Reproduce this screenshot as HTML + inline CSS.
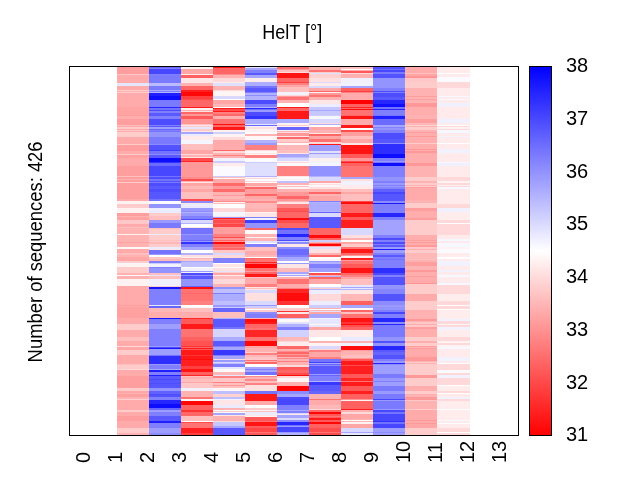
<!DOCTYPE html>
<html><head><meta charset="utf-8"><title>HelT</title>
<style>
html,body{margin:0;padding:0;background:#fff;}
body{width:640px;height:480px;overflow:hidden;position:relative;font-family:"Liberation Sans",sans-serif;color:#000;}
svg{position:absolute;left:0;top:0;}
text{font-family:"Liberation Sans",sans-serif;fill:#000;}
</style></head><body>
<svg width="640" height="480" viewBox="0 0 640 480">
<defs><linearGradient id="cb" x1="0" y1="0" x2="0" y2="1">
<stop offset="0" stop-color="#0000ff"/><stop offset="0.5" stop-color="#ffffff"/><stop offset="1" stop-color="#ff0000"/>
</linearGradient></defs>
<g shape-rendering="crispEdges">
<rect x="117" y="67" width="32" height="7" fill="#ff9e9e"/>
<rect x="117" y="74" width="32" height="1" fill="#ffc7c7"/>
<rect x="117" y="75" width="32" height="8" fill="#ffabab"/>
<rect x="117" y="83" width="32" height="3" fill="#e6e6ff"/>
<rect x="117" y="86" width="32" height="4" fill="#ffabab"/>
<rect x="117" y="90" width="32" height="1" fill="#ffcccc"/>
<rect x="117" y="91" width="32" height="1" fill="#ffb2b2"/>
<rect x="117" y="92" width="32" height="1" fill="#ffcccc"/>
<rect x="117" y="93" width="32" height="14" fill="#ffabab"/>
<rect x="117" y="107" width="32" height="8" fill="#ffa3a3"/>
<rect x="117" y="115" width="32" height="1" fill="#ff9e9e"/>
<rect x="117" y="116" width="32" height="3" fill="#ffadad"/>
<rect x="117" y="119" width="32" height="6" fill="#ff9e9e"/>
<rect x="117" y="125" width="32" height="1" fill="#ffbfbf"/>
<rect x="117" y="126" width="32" height="1" fill="#ffa6a6"/>
<rect x="117" y="127" width="32" height="2" fill="#ffcccc"/>
<rect x="117" y="129" width="32" height="1" fill="#ffa6a6"/>
<rect x="117" y="130" width="32" height="1" fill="#ffc7c7"/>
<rect x="117" y="131" width="32" height="1" fill="#ffadad"/>
<rect x="117" y="132" width="32" height="5" fill="#ffcccc"/>
<rect x="117" y="137" width="32" height="7" fill="#ffabab"/>
<rect x="117" y="144" width="32" height="1" fill="#ffcccc"/>
<rect x="117" y="145" width="32" height="6" fill="#ff9e9e"/>
<rect x="117" y="151" width="32" height="3" fill="#ffabab"/>
<rect x="117" y="154" width="32" height="1" fill="#ffcccc"/>
<rect x="117" y="155" width="32" height="3" fill="#ffa1a1"/>
<rect x="117" y="158" width="32" height="8" fill="#ffabab"/>
<rect x="117" y="166" width="32" height="10" fill="#ff9e9e"/>
<rect x="117" y="176" width="32" height="1" fill="#ffbfbf"/>
<rect x="117" y="177" width="32" height="2" fill="#ff9e9e"/>
<rect x="117" y="179" width="32" height="1" fill="#ffb2b2"/>
<rect x="117" y="180" width="32" height="2" fill="#ff9e9e"/>
<rect x="117" y="182" width="32" height="1" fill="#ffcccc"/>
<rect x="117" y="183" width="32" height="16" fill="#ff9e9e"/>
<rect x="117" y="199" width="32" height="2" fill="#ffabab"/>
<rect x="117" y="201" width="32" height="3" fill="#fff2f2"/>
<rect x="117" y="204" width="32" height="4" fill="#ffcccc"/>
<rect x="117" y="208" width="32" height="5" fill="#fff2f2"/>
<rect x="117" y="213" width="32" height="3" fill="#ff9e9e"/>
<rect x="117" y="216" width="32" height="1" fill="#ffb2b2"/>
<rect x="117" y="217" width="32" height="3" fill="#ffa3a3"/>
<rect x="117" y="220" width="32" height="4" fill="#ffc7c7"/>
<rect x="117" y="224" width="32" height="3" fill="#ffabab"/>
<rect x="117" y="227" width="32" height="1" fill="#ffbfbf"/>
<rect x="117" y="228" width="32" height="6" fill="#ffb2b2"/>
<rect x="117" y="234" width="32" height="1" fill="#fff2f2"/>
<rect x="117" y="235" width="32" height="7" fill="#ffb2b2"/>
<rect x="117" y="242" width="32" height="1" fill="#ffa3a3"/>
<rect x="117" y="243" width="32" height="4" fill="#ffb2b2"/>
<rect x="117" y="247" width="32" height="2" fill="#fff7f7"/>
<rect x="117" y="249" width="32" height="4" fill="#ffabab"/>
<rect x="117" y="253" width="32" height="2" fill="#ffbfbf"/>
<rect x="117" y="255" width="32" height="2" fill="#ffb2b2"/>
<rect x="117" y="257" width="32" height="4" fill="#ffa6a6"/>
<rect x="117" y="261" width="32" height="2" fill="#ffcccc"/>
<rect x="117" y="263" width="32" height="1" fill="#f7f7ff"/>
<rect x="117" y="264" width="32" height="3" fill="#fff2f2"/>
<rect x="117" y="267" width="32" height="6" fill="#ffcccc"/>
<rect x="117" y="273" width="32" height="2" fill="#ffb2b2"/>
<rect x="117" y="275" width="32" height="1" fill="#fff7f7"/>
<rect x="117" y="276" width="32" height="3" fill="#ffb2b2"/>
<rect x="117" y="279" width="32" height="7" fill="#fff2f2"/>
<rect x="117" y="286" width="32" height="19" fill="#ffabab"/>
<rect x="117" y="305" width="32" height="1" fill="#ff9e9e"/>
<rect x="117" y="306" width="32" height="1" fill="#ffabab"/>
<rect x="117" y="307" width="32" height="11" fill="#ffa1a1"/>
<rect x="117" y="318" width="32" height="6" fill="#ffabab"/>
<rect x="117" y="324" width="32" height="6" fill="#ffcccc"/>
<rect x="117" y="330" width="32" height="7" fill="#ffabab"/>
<rect x="117" y="337" width="32" height="4" fill="#ffbfbf"/>
<rect x="117" y="341" width="32" height="5" fill="#ffabab"/>
<rect x="117" y="346" width="32" height="1" fill="#ffd9d9"/>
<rect x="117" y="347" width="32" height="3" fill="#ffa6a6"/>
<rect x="117" y="350" width="32" height="5" fill="#ffcccc"/>
<rect x="117" y="355" width="32" height="9" fill="#ffabab"/>
<rect x="117" y="364" width="32" height="1" fill="#ffbfbf"/>
<rect x="117" y="365" width="32" height="4" fill="#ffcccc"/>
<rect x="117" y="369" width="32" height="1" fill="#ffd9d9"/>
<rect x="117" y="370" width="32" height="6" fill="#ffabab"/>
<rect x="117" y="376" width="32" height="12" fill="#ff9e9e"/>
<rect x="117" y="388" width="32" height="3" fill="#ffcccc"/>
<rect x="117" y="391" width="32" height="2" fill="#ffa6a6"/>
<rect x="117" y="393" width="32" height="1" fill="#ffb2b2"/>
<rect x="117" y="394" width="32" height="3" fill="#ffa1a1"/>
<rect x="117" y="397" width="32" height="2" fill="#ffb2b2"/>
<rect x="117" y="399" width="32" height="1" fill="#ffd1d1"/>
<rect x="117" y="400" width="32" height="10" fill="#ffabab"/>
<rect x="117" y="410" width="32" height="2" fill="#ffcccc"/>
<rect x="117" y="412" width="32" height="4" fill="#ffabab"/>
<rect x="117" y="416" width="32" height="5" fill="#ff9e9e"/>
<rect x="117" y="421" width="32" height="7" fill="#ffabab"/>
<rect x="117" y="428" width="32" height="5" fill="#ffcccc"/>
<rect x="117" y="433" width="32" height="2" fill="#ffb2b2"/>
<rect x="149" y="67" width="32" height="1" fill="#6666ff"/>
<rect x="149" y="68" width="32" height="1" fill="#8080ff"/>
<rect x="149" y="69" width="32" height="5" fill="#4747ff"/>
<rect x="149" y="74" width="32" height="1" fill="#8080ff"/>
<rect x="149" y="75" width="32" height="8" fill="#7a7aff"/>
<rect x="149" y="83" width="32" height="3" fill="#babaff"/>
<rect x="149" y="86" width="32" height="4" fill="#7a7aff"/>
<rect x="149" y="90" width="32" height="1" fill="#a6a6ff"/>
<rect x="149" y="91" width="32" height="1" fill="#8080ff"/>
<rect x="149" y="92" width="32" height="1" fill="#b2b2ff"/>
<rect x="149" y="93" width="32" height="3" fill="#1f1fff"/>
<rect x="149" y="96" width="32" height="4" fill="#0d0dff"/>
<rect x="149" y="100" width="32" height="7" fill="#7a7aff"/>
<rect x="149" y="107" width="32" height="1" fill="#2626ff"/>
<rect x="149" y="108" width="32" height="2" fill="#7373ff"/>
<rect x="149" y="110" width="32" height="1" fill="#4d4dff"/>
<rect x="149" y="111" width="32" height="2" fill="#8080ff"/>
<rect x="149" y="113" width="32" height="3" fill="#5959ff"/>
<rect x="149" y="116" width="32" height="3" fill="#8080ff"/>
<rect x="149" y="119" width="32" height="6" fill="#4d4dff"/>
<rect x="149" y="125" width="32" height="1" fill="#8080ff"/>
<rect x="149" y="126" width="32" height="1" fill="#5959ff"/>
<rect x="149" y="127" width="32" height="2" fill="#9e9eff"/>
<rect x="149" y="129" width="32" height="1" fill="#6666ff"/>
<rect x="149" y="130" width="32" height="1" fill="#8080ff"/>
<rect x="149" y="131" width="32" height="1" fill="#7373ff"/>
<rect x="149" y="132" width="32" height="5" fill="#9494ff"/>
<rect x="149" y="137" width="32" height="7" fill="#7a7aff"/>
<rect x="149" y="144" width="32" height="1" fill="#8c8cff"/>
<rect x="149" y="145" width="32" height="5" fill="#5252ff"/>
<rect x="149" y="150" width="32" height="1" fill="#4040ff"/>
<rect x="149" y="151" width="32" height="3" fill="#7373ff"/>
<rect x="149" y="154" width="32" height="1" fill="#8c8cff"/>
<rect x="149" y="155" width="32" height="3" fill="#5959ff"/>
<rect x="149" y="158" width="32" height="4" fill="#0d0dff"/>
<rect x="149" y="162" width="32" height="1" fill="#3333ff"/>
<rect x="149" y="163" width="32" height="3" fill="#6b6bff"/>
<rect x="149" y="166" width="32" height="10" fill="#4747ff"/>
<rect x="149" y="176" width="32" height="1" fill="#7373ff"/>
<rect x="149" y="177" width="32" height="2" fill="#4d4dff"/>
<rect x="149" y="179" width="32" height="2" fill="#7373ff"/>
<rect x="149" y="181" width="32" height="1" fill="#5252ff"/>
<rect x="149" y="182" width="32" height="1" fill="#7a7aff"/>
<rect x="149" y="183" width="32" height="3" fill="#4d4dff"/>
<rect x="149" y="186" width="32" height="3" fill="#5959ff"/>
<rect x="149" y="189" width="32" height="3" fill="#4d4dff"/>
<rect x="149" y="192" width="32" height="7" fill="#5757ff"/>
<rect x="149" y="199" width="32" height="2" fill="#7373ff"/>
<rect x="149" y="201" width="32" height="3" fill="#fafaff"/>
<rect x="149" y="204" width="32" height="4" fill="#9494ff"/>
<rect x="149" y="208" width="32" height="3" fill="#ededff"/>
<rect x="149" y="211" width="32" height="2" fill="#ebebff"/>
<rect x="149" y="213" width="32" height="3" fill="#ffcccc"/>
<rect x="149" y="216" width="32" height="4" fill="#ffbfbf"/>
<rect x="149" y="220" width="32" height="3" fill="#9999ff"/>
<rect x="149" y="223" width="32" height="5" fill="#7a7aff"/>
<rect x="149" y="228" width="32" height="1" fill="#ffbfbf"/>
<rect x="149" y="229" width="32" height="5" fill="#ffcccc"/>
<rect x="149" y="234" width="32" height="1" fill="#ebebff"/>
<rect x="149" y="235" width="32" height="5" fill="#ffcccc"/>
<rect x="149" y="240" width="32" height="1" fill="#ffbfbf"/>
<rect x="149" y="241" width="32" height="1" fill="#ffcccc"/>
<rect x="149" y="242" width="32" height="2" fill="#ffb8b8"/>
<rect x="149" y="244" width="32" height="3" fill="#ffcccc"/>
<rect x="149" y="247" width="32" height="2" fill="#ebebff"/>
<rect x="149" y="249" width="32" height="1" fill="#ffe6e6"/>
<rect x="149" y="250" width="32" height="4" fill="#7373ff"/>
<rect x="149" y="254" width="32" height="1" fill="#9999ff"/>
<rect x="149" y="257" width="32" height="2" fill="#ffc7c7"/>
<rect x="149" y="259" width="32" height="2" fill="#ffb8b8"/>
<rect x="149" y="261" width="32" height="2" fill="#8080ff"/>
<rect x="149" y="263" width="32" height="1" fill="#ccccff"/>
<rect x="149" y="264" width="32" height="3" fill="#f2f2ff"/>
<rect x="149" y="267" width="32" height="1" fill="#8080ff"/>
<rect x="149" y="268" width="32" height="5" fill="#9494ff"/>
<rect x="149" y="273" width="32" height="2" fill="#ffbfbf"/>
<rect x="149" y="275" width="32" height="1" fill="#e6e6ff"/>
<rect x="149" y="276" width="32" height="3" fill="#ffbfbf"/>
<rect x="149" y="279" width="32" height="7" fill="#f0f0ff"/>
<rect x="149" y="286" width="32" height="1" fill="#ffcccc"/>
<rect x="149" y="287" width="32" height="2" fill="#1414ff"/>
<rect x="149" y="289" width="32" height="16" fill="#8080ff"/>
<rect x="149" y="305" width="32" height="1" fill="#e6e6ff"/>
<rect x="149" y="306" width="32" height="2" fill="#6666ff"/>
<rect x="149" y="308" width="32" height="4" fill="#ffb8b8"/>
<rect x="149" y="312" width="32" height="6" fill="#ffadad"/>
<rect x="149" y="318" width="32" height="1" fill="#1919ff"/>
<rect x="149" y="319" width="32" height="5" fill="#8080ff"/>
<rect x="149" y="324" width="32" height="5" fill="#9e9eff"/>
<rect x="149" y="329" width="32" height="17" fill="#8080ff"/>
<rect x="149" y="346" width="32" height="1" fill="#9999ff"/>
<rect x="149" y="347" width="32" height="1" fill="#4d4dff"/>
<rect x="149" y="348" width="32" height="1" fill="#1919ff"/>
<rect x="149" y="349" width="32" height="6" fill="#9e9eff"/>
<rect x="149" y="355" width="32" height="1" fill="#7373ff"/>
<rect x="149" y="356" width="32" height="8" fill="#2e2eff"/>
<rect x="149" y="364" width="32" height="1" fill="#9999ff"/>
<rect x="149" y="365" width="32" height="4" fill="#8080ff"/>
<rect x="149" y="369" width="32" height="1" fill="#a6a6ff"/>
<rect x="149" y="370" width="32" height="2" fill="#1f1fff"/>
<rect x="149" y="372" width="32" height="3" fill="#8080ff"/>
<rect x="149" y="375" width="32" height="1" fill="#1f1fff"/>
<rect x="149" y="376" width="32" height="3" fill="#5959ff"/>
<rect x="149" y="379" width="32" height="1" fill="#4747ff"/>
<rect x="149" y="380" width="32" height="3" fill="#5757ff"/>
<rect x="149" y="383" width="32" height="1" fill="#4d4dff"/>
<rect x="149" y="384" width="32" height="4" fill="#5757ff"/>
<rect x="149" y="388" width="32" height="3" fill="#9494ff"/>
<rect x="149" y="391" width="32" height="3" fill="#6161ff"/>
<rect x="149" y="394" width="32" height="1" fill="#4d4dff"/>
<rect x="149" y="395" width="32" height="2" fill="#5252ff"/>
<rect x="149" y="397" width="32" height="3" fill="#8080ff"/>
<rect x="149" y="400" width="32" height="4" fill="#2626ff"/>
<rect x="149" y="404" width="32" height="4" fill="#0d0dff"/>
<rect x="149" y="408" width="32" height="2" fill="#6666ff"/>
<rect x="149" y="410" width="32" height="2" fill="#9e9eff"/>
<rect x="149" y="412" width="32" height="4" fill="#8080ff"/>
<rect x="149" y="416" width="32" height="5" fill="#5959ff"/>
<rect x="149" y="421" width="32" height="2" fill="#1f1fff"/>
<rect x="149" y="423" width="32" height="5" fill="#8080ff"/>
<rect x="149" y="428" width="32" height="5" fill="#9e9eff"/>
<rect x="149" y="433" width="32" height="2" fill="#8c8cff"/>
<rect x="181" y="67" width="32" height="2" fill="#fff2f2"/>
<rect x="181" y="69" width="32" height="5" fill="#ffa6a6"/>
<rect x="181" y="74" width="32" height="1" fill="#ffebeb"/>
<rect x="181" y="75" width="32" height="3" fill="#ff6161"/>
<rect x="181" y="78" width="32" height="5" fill="#ffe6e6"/>
<rect x="181" y="83" width="32" height="3" fill="#ffb2b2"/>
<rect x="181" y="86" width="32" height="4" fill="#ff6666"/>
<rect x="181" y="90" width="32" height="2" fill="#ff1f1f"/>
<rect x="181" y="92" width="32" height="4" fill="#ff0808"/>
<rect x="181" y="96" width="32" height="3" fill="#ff4040"/>
<rect x="181" y="99" width="32" height="1" fill="#ff4d4d"/>
<rect x="181" y="100" width="32" height="7" fill="#ff6666"/>
<rect x="181" y="107" width="32" height="1" fill="#ff1919"/>
<rect x="181" y="108" width="32" height="2" fill="#fff2f2"/>
<rect x="181" y="110" width="32" height="1" fill="#ffb2b2"/>
<rect x="181" y="111" width="32" height="1" fill="#ffe0e0"/>
<rect x="181" y="112" width="32" height="2" fill="#ff6666"/>
<rect x="181" y="114" width="32" height="2" fill="#ff9999"/>
<rect x="181" y="116" width="32" height="3" fill="#ff5959"/>
<rect x="181" y="119" width="32" height="5" fill="#ff9494"/>
<rect x="181" y="124" width="32" height="1" fill="#ffbfbf"/>
<rect x="181" y="125" width="32" height="1" fill="#ffe6e6"/>
<rect x="181" y="126" width="32" height="1" fill="#ffcccc"/>
<rect x="181" y="127" width="32" height="2" fill="#e6e6ff"/>
<rect x="181" y="129" width="32" height="2" fill="#ffcccc"/>
<rect x="181" y="131" width="32" height="1" fill="#ffe6e6"/>
<rect x="181" y="132" width="32" height="2" fill="#a6a6ff"/>
<rect x="181" y="134" width="32" height="2" fill="#ebebff"/>
<rect x="181" y="136" width="32" height="4" fill="#ffebeb"/>
<rect x="181" y="140" width="32" height="4" fill="#f5f5ff"/>
<rect x="181" y="144" width="32" height="6" fill="#ffbfbf"/>
<rect x="181" y="150" width="32" height="4" fill="#ffa6a6"/>
<rect x="181" y="154" width="32" height="1" fill="#ffd9d9"/>
<rect x="181" y="155" width="32" height="2" fill="#ffb2b2"/>
<rect x="181" y="157" width="32" height="1" fill="#ffe0e0"/>
<rect x="181" y="158" width="32" height="3" fill="#ff4d4d"/>
<rect x="181" y="161" width="32" height="1" fill="#ff2626"/>
<rect x="181" y="162" width="32" height="15" fill="#ff9999"/>
<rect x="181" y="177" width="32" height="2" fill="#ff8c8c"/>
<rect x="181" y="179" width="32" height="2" fill="#ff4d4d"/>
<rect x="181" y="181" width="32" height="1" fill="#ffb2b2"/>
<rect x="181" y="182" width="32" height="1" fill="#ffe6e6"/>
<rect x="181" y="183" width="32" height="3" fill="#ffa6a6"/>
<rect x="181" y="186" width="32" height="3" fill="#ffb8b8"/>
<rect x="181" y="189" width="32" height="3" fill="#ffa6a6"/>
<rect x="181" y="192" width="32" height="7" fill="#ffbfbf"/>
<rect x="181" y="199" width="32" height="2" fill="#ff4d4d"/>
<rect x="181" y="201" width="32" height="2" fill="#8c8cff"/>
<rect x="181" y="203" width="32" height="1" fill="#ffe6e6"/>
<rect x="181" y="204" width="32" height="4" fill="#ebebff"/>
<rect x="181" y="208" width="32" height="3" fill="#9999ff"/>
<rect x="181" y="211" width="32" height="1" fill="#8c8cff"/>
<rect x="181" y="212" width="32" height="1" fill="#b2b2ff"/>
<rect x="181" y="213" width="32" height="3" fill="#9999ff"/>
<rect x="181" y="216" width="32" height="3" fill="#8080ff"/>
<rect x="181" y="219" width="32" height="1" fill="#4d4dff"/>
<rect x="181" y="220" width="32" height="3" fill="#d9d9ff"/>
<rect x="181" y="223" width="32" height="1" fill="#b2b2ff"/>
<rect x="181" y="227" width="32" height="1" fill="#ffe6e6"/>
<rect x="181" y="228" width="32" height="6" fill="#7373ff"/>
<rect x="181" y="234" width="32" height="1" fill="#9999ff"/>
<rect x="181" y="235" width="32" height="5" fill="#8080ff"/>
<rect x="181" y="240" width="32" height="1" fill="#6666ff"/>
<rect x="181" y="241" width="32" height="1" fill="#9999ff"/>
<rect x="181" y="242" width="32" height="2" fill="#3333ff"/>
<rect x="181" y="244" width="32" height="3" fill="#8080ff"/>
<rect x="181" y="247" width="32" height="3" fill="#a6a6ff"/>
<rect x="181" y="253" width="32" height="2" fill="#b2b2ff"/>
<rect x="181" y="255" width="32" height="2" fill="#ffe0e0"/>
<rect x="181" y="257" width="32" height="1" fill="#fff2f2"/>
<rect x="181" y="258" width="32" height="1" fill="#ffb2b2"/>
<rect x="181" y="259" width="32" height="2" fill="#ffc7c7"/>
<rect x="181" y="261" width="32" height="1" fill="#a6a6ff"/>
<rect x="181" y="262" width="32" height="5" fill="#bfbfff"/>
<rect x="181" y="268" width="32" height="3" fill="#f2f2ff"/>
<rect x="181" y="271" width="32" height="1" fill="#9999ff"/>
<rect x="181" y="272" width="32" height="1" fill="#f2f2ff"/>
<rect x="181" y="273" width="32" height="2" fill="#4d4dff"/>
<rect x="181" y="275" width="32" height="1" fill="#8c8cff"/>
<rect x="181" y="276" width="32" height="3" fill="#5959ff"/>
<rect x="181" y="279" width="32" height="7" fill="#9494ff"/>
<rect x="181" y="286" width="32" height="1" fill="#6666ff"/>
<rect x="181" y="287" width="32" height="2" fill="#ff0d0d"/>
<rect x="181" y="289" width="32" height="4" fill="#ff7373"/>
<rect x="181" y="293" width="32" height="1" fill="#ff6666"/>
<rect x="181" y="294" width="32" height="7" fill="#ff7373"/>
<rect x="181" y="301" width="32" height="4" fill="#ff8080"/>
<rect x="181" y="307" width="32" height="1" fill="#f7f7ff"/>
<rect x="181" y="308" width="32" height="4" fill="#ffbfbf"/>
<rect x="181" y="312" width="32" height="6" fill="#ffadad"/>
<rect x="181" y="318" width="32" height="1" fill="#ff2626"/>
<rect x="181" y="319" width="32" height="5" fill="#ff5959"/>
<rect x="181" y="324" width="32" height="5" fill="#ff1919"/>
<rect x="181" y="329" width="32" height="8" fill="#ff7373"/>
<rect x="181" y="337" width="32" height="4" fill="#ff6161"/>
<rect x="181" y="341" width="32" height="5" fill="#ff5252"/>
<rect x="181" y="346" width="32" height="1" fill="#ff3333"/>
<rect x="181" y="347" width="32" height="1" fill="#ff6666"/>
<rect x="181" y="348" width="32" height="1" fill="#ff1919"/>
<rect x="181" y="349" width="32" height="1" fill="#ff5959"/>
<rect x="181" y="350" width="32" height="5" fill="#ff1919"/>
<rect x="181" y="355" width="32" height="1" fill="#ff3333"/>
<rect x="181" y="356" width="32" height="3" fill="#ff1919"/>
<rect x="181" y="359" width="32" height="1" fill="#ff0d0d"/>
<rect x="181" y="360" width="32" height="6" fill="#ff1f1f"/>
<rect x="181" y="366" width="32" height="3" fill="#ff4040"/>
<rect x="181" y="369" width="32" height="3" fill="#ff1414"/>
<rect x="181" y="372" width="32" height="3" fill="#ff6161"/>
<rect x="181" y="375" width="32" height="1" fill="#ff2626"/>
<rect x="181" y="376" width="32" height="1" fill="#ffbfbf"/>
<rect x="181" y="377" width="32" height="2" fill="#ffb2b2"/>
<rect x="181" y="379" width="32" height="3" fill="#ffbfbf"/>
<rect x="181" y="382" width="32" height="1" fill="#ffa6a6"/>
<rect x="181" y="383" width="32" height="5" fill="#ffc7c7"/>
<rect x="181" y="388" width="32" height="3" fill="#f2f2ff"/>
<rect x="181" y="391" width="32" height="6" fill="#ffb2b2"/>
<rect x="181" y="397" width="32" height="2" fill="#ff7373"/>
<rect x="181" y="399" width="32" height="2" fill="#fff2f2"/>
<rect x="181" y="401" width="32" height="4" fill="#ff0505"/>
<rect x="181" y="405" width="32" height="5" fill="#ff6161"/>
<rect x="181" y="410" width="32" height="2" fill="#ff3333"/>
<rect x="181" y="412" width="32" height="4" fill="#ff6666"/>
<rect x="181" y="416" width="32" height="5" fill="#ffbfbf"/>
<rect x="181" y="422" width="32" height="1" fill="#ff4d4d"/>
<rect x="181" y="423" width="32" height="5" fill="#ff7373"/>
<rect x="181" y="428" width="32" height="5" fill="#ff1f1f"/>
<rect x="181" y="433" width="32" height="2" fill="#ff4040"/>
<rect x="213" y="67" width="32" height="1" fill="#ff1919"/>
<rect x="213" y="68" width="32" height="6" fill="#ff6666"/>
<rect x="213" y="74" width="32" height="1" fill="#ff8c8c"/>
<rect x="213" y="75" width="32" height="3" fill="#ffb2b2"/>
<rect x="213" y="78" width="32" height="4" fill="#ffd9d9"/>
<rect x="213" y="82" width="32" height="1" fill="#ffebeb"/>
<rect x="213" y="83" width="32" height="3" fill="#e0e0ff"/>
<rect x="213" y="86" width="32" height="4" fill="#ffb2b2"/>
<rect x="213" y="90" width="32" height="1" fill="#ffd9d9"/>
<rect x="213" y="91" width="32" height="5" fill="#fff5f5"/>
<rect x="213" y="96" width="32" height="3" fill="#d9d9ff"/>
<rect x="213" y="100" width="32" height="4" fill="#ffa6a6"/>
<rect x="213" y="104" width="32" height="3" fill="#ffb8b8"/>
<rect x="213" y="108" width="32" height="1" fill="#ff1919"/>
<rect x="213" y="109" width="32" height="2" fill="#ff4d4d"/>
<rect x="213" y="111" width="32" height="1" fill="#ff1919"/>
<rect x="213" y="112" width="32" height="2" fill="#ff8080"/>
<rect x="213" y="114" width="32" height="2" fill="#ff6666"/>
<rect x="213" y="116" width="32" height="3" fill="#ffb2b2"/>
<rect x="213" y="119" width="32" height="5" fill="#ff7373"/>
<rect x="213" y="124" width="32" height="1" fill="#ff0d0d"/>
<rect x="213" y="125" width="32" height="2" fill="#ff6666"/>
<rect x="213" y="127" width="32" height="3" fill="#ff1919"/>
<rect x="213" y="130" width="32" height="2" fill="#fff2f2"/>
<rect x="213" y="132" width="32" height="2" fill="#d1d1ff"/>
<rect x="213" y="134" width="32" height="3" fill="#fff2f2"/>
<rect x="213" y="137" width="32" height="3" fill="#ffd9d9"/>
<rect x="213" y="140" width="32" height="10" fill="#ffabab"/>
<rect x="213" y="150" width="32" height="1" fill="#ff6666"/>
<rect x="213" y="151" width="32" height="2" fill="#ffd9d9"/>
<rect x="213" y="153" width="32" height="2" fill="#ffb2b2"/>
<rect x="213" y="155" width="32" height="1" fill="#ff8080"/>
<rect x="213" y="156" width="32" height="2" fill="#ffb2b2"/>
<rect x="213" y="158" width="32" height="3" fill="#f2f2ff"/>
<rect x="213" y="161" width="32" height="2" fill="#ccccff"/>
<rect x="213" y="163" width="32" height="3" fill="#ffebeb"/>
<rect x="213" y="166" width="32" height="10" fill="#fafaff"/>
<rect x="213" y="176" width="32" height="1" fill="#ccccff"/>
<rect x="213" y="177" width="32" height="1" fill="#ffbfbf"/>
<rect x="213" y="178" width="32" height="1" fill="#fff2f2"/>
<rect x="213" y="179" width="32" height="4" fill="#ffabab"/>
<rect x="213" y="183" width="32" height="3" fill="#ff6b6b"/>
<rect x="213" y="186" width="32" height="3" fill="#ff9999"/>
<rect x="213" y="189" width="32" height="3" fill="#ff6b6b"/>
<rect x="213" y="192" width="32" height="3" fill="#ffb2b2"/>
<rect x="213" y="195" width="32" height="1" fill="#ff9999"/>
<rect x="213" y="196" width="32" height="3" fill="#ffb8b8"/>
<rect x="213" y="199" width="32" height="2" fill="#ffabab"/>
<rect x="213" y="201" width="32" height="1" fill="#ff8c8c"/>
<rect x="213" y="202" width="32" height="1" fill="#fff2f2"/>
<rect x="213" y="203" width="32" height="1" fill="#ffbfbf"/>
<rect x="213" y="208" width="32" height="4" fill="#ffd9d9"/>
<rect x="213" y="212" width="32" height="4" fill="#f5f5ff"/>
<rect x="213" y="216" width="32" height="1" fill="#ffe6e6"/>
<rect x="213" y="217" width="32" height="1" fill="#9999ff"/>
<rect x="213" y="218" width="32" height="1" fill="#ff1919"/>
<rect x="213" y="219" width="32" height="1" fill="#ff6666"/>
<rect x="213" y="220" width="32" height="3" fill="#ff4d4d"/>
<rect x="213" y="223" width="32" height="1" fill="#ff6666"/>
<rect x="213" y="224" width="32" height="3" fill="#ff4747"/>
<rect x="213" y="227" width="32" height="7" fill="#ff9e9e"/>
<rect x="213" y="234" width="32" height="3" fill="#ff8080"/>
<rect x="213" y="237" width="32" height="1" fill="#ff4d4d"/>
<rect x="213" y="238" width="32" height="2" fill="#ff9999"/>
<rect x="213" y="240" width="32" height="1" fill="#ff6666"/>
<rect x="213" y="241" width="32" height="1" fill="#ff9999"/>
<rect x="213" y="242" width="32" height="2" fill="#ff0808"/>
<rect x="213" y="244" width="32" height="3" fill="#ff6666"/>
<rect x="213" y="247" width="32" height="1" fill="#ff8080"/>
<rect x="213" y="248" width="32" height="2" fill="#ff6666"/>
<rect x="213" y="250" width="32" height="3" fill="#ffc7c7"/>
<rect x="213" y="253" width="32" height="2" fill="#d9d9ff"/>
<rect x="213" y="255" width="32" height="3" fill="#ffd9d9"/>
<rect x="213" y="258" width="32" height="5" fill="#8080ff"/>
<rect x="213" y="264" width="32" height="3" fill="#ffe6e6"/>
<rect x="213" y="267" width="32" height="1" fill="#fffafa"/>
<rect x="213" y="268" width="32" height="3" fill="#ffe0e0"/>
<rect x="213" y="271" width="32" height="1" fill="#e6e6ff"/>
<rect x="213" y="272" width="32" height="1" fill="#ffcccc"/>
<rect x="213" y="273" width="32" height="2" fill="#ffa6a6"/>
<rect x="213" y="275" width="32" height="1" fill="#ffebeb"/>
<rect x="213" y="276" width="32" height="3" fill="#ffbfbf"/>
<rect x="213" y="279" width="32" height="5" fill="#ffd9d9"/>
<rect x="213" y="284" width="32" height="3" fill="#ffb2b2"/>
<rect x="213" y="287" width="32" height="2" fill="#9494ff"/>
<rect x="213" y="289" width="32" height="4" fill="#bfbfff"/>
<rect x="213" y="293" width="32" height="1" fill="#8080ff"/>
<rect x="213" y="294" width="32" height="7" fill="#adadff"/>
<rect x="213" y="301" width="32" height="4" fill="#bfbfff"/>
<rect x="213" y="305" width="32" height="2" fill="#9999ff"/>
<rect x="213" y="307" width="32" height="1" fill="#ccccff"/>
<rect x="213" y="308" width="32" height="4" fill="#6666ff"/>
<rect x="213" y="312" width="32" height="6" fill="#ffbfbf"/>
<rect x="213" y="318" width="32" height="1" fill="#b2b2ff"/>
<rect x="213" y="319" width="32" height="8" fill="#5959ff"/>
<rect x="213" y="327" width="32" height="2" fill="#7373ff"/>
<rect x="213" y="329" width="32" height="8" fill="#d4d4ff"/>
<rect x="213" y="337" width="32" height="4" fill="#ababff"/>
<rect x="213" y="341" width="32" height="5" fill="#5959ff"/>
<rect x="213" y="346" width="32" height="1" fill="#8080ff"/>
<rect x="213" y="347" width="32" height="3" fill="#a6a6ff"/>
<rect x="213" y="350" width="32" height="5" fill="#3838ff"/>
<rect x="213" y="355" width="32" height="1" fill="#8080ff"/>
<rect x="213" y="356" width="32" height="3" fill="#a6a6ff"/>
<rect x="213" y="359" width="32" height="1" fill="#ffe0e0"/>
<rect x="213" y="360" width="32" height="2" fill="#9999ff"/>
<rect x="213" y="362" width="32" height="1" fill="#d9d9ff"/>
<rect x="213" y="363" width="32" height="1" fill="#bfbfff"/>
<rect x="213" y="364" width="32" height="3" fill="#8080ff"/>
<rect x="213" y="367" width="32" height="2" fill="#e6e6ff"/>
<rect x="213" y="369" width="32" height="3" fill="#fffafa"/>
<rect x="213" y="372" width="32" height="3" fill="#ffb8b8"/>
<rect x="213" y="375" width="32" height="1" fill="#e6e6ff"/>
<rect x="213" y="376" width="32" height="2" fill="#ff8080"/>
<rect x="213" y="378" width="32" height="4" fill="#ffc7c7"/>
<rect x="213" y="382" width="32" height="1" fill="#ff8080"/>
<rect x="213" y="383" width="32" height="2" fill="#ffbfbf"/>
<rect x="213" y="385" width="32" height="1" fill="#ff9999"/>
<rect x="213" y="386" width="32" height="2" fill="#ffbfbf"/>
<rect x="213" y="388" width="32" height="3" fill="#fff7f7"/>
<rect x="213" y="391" width="32" height="3" fill="#bfbfff"/>
<rect x="213" y="394" width="32" height="3" fill="#ffd1d1"/>
<rect x="213" y="397" width="32" height="2" fill="#bfbfff"/>
<rect x="213" y="399" width="32" height="1" fill="#f2f2ff"/>
<rect x="213" y="400" width="32" height="5" fill="#ffe6e6"/>
<rect x="213" y="405" width="32" height="3" fill="#ebebff"/>
<rect x="213" y="408" width="32" height="2" fill="#ffb2b2"/>
<rect x="213" y="411" width="32" height="1" fill="#ffcccc"/>
<rect x="213" y="412" width="32" height="1" fill="#fffafa"/>
<rect x="213" y="413" width="32" height="2" fill="#a6a6ff"/>
<rect x="213" y="415" width="32" height="1" fill="#ffe6e6"/>
<rect x="213" y="416" width="32" height="5" fill="#ffb2b2"/>
<rect x="213" y="421" width="32" height="1" fill="#ffd9d9"/>
<rect x="213" y="422" width="32" height="4" fill="#c7c7ff"/>
<rect x="213" y="426" width="32" height="2" fill="#a6a6ff"/>
<rect x="213" y="428" width="32" height="7" fill="#5959ff"/>
<rect x="245" y="67" width="32" height="1" fill="#e6e6ff"/>
<rect x="245" y="68" width="32" height="2" fill="#a6a6ff"/>
<rect x="245" y="70" width="32" height="3" fill="#8080ff"/>
<rect x="245" y="73" width="32" height="2" fill="#5959ff"/>
<rect x="245" y="75" width="32" height="3" fill="#a6a6ff"/>
<rect x="245" y="78" width="32" height="4" fill="#ffeded"/>
<rect x="245" y="82" width="32" height="4" fill="#adadff"/>
<rect x="245" y="86" width="32" height="2" fill="#7373ff"/>
<rect x="245" y="88" width="32" height="4" fill="#5959ff"/>
<rect x="245" y="92" width="32" height="1" fill="#8080ff"/>
<rect x="245" y="93" width="32" height="2" fill="#b2b2ff"/>
<rect x="245" y="95" width="32" height="1" fill="#8c8cff"/>
<rect x="245" y="96" width="32" height="4" fill="#b2b2ff"/>
<rect x="245" y="100" width="32" height="4" fill="#4d4dff"/>
<rect x="245" y="104" width="32" height="3" fill="#8080ff"/>
<rect x="245" y="107" width="32" height="1" fill="#b2b2ff"/>
<rect x="245" y="108" width="32" height="1" fill="#2626ff"/>
<rect x="245" y="109" width="32" height="1" fill="#7373ff"/>
<rect x="245" y="110" width="32" height="2" fill="#9999ff"/>
<rect x="245" y="112" width="32" height="4" fill="#4d4dff"/>
<rect x="245" y="116" width="32" height="3" fill="#3333ff"/>
<rect x="245" y="119" width="32" height="5" fill="#ababff"/>
<rect x="245" y="124" width="32" height="1" fill="#e6e6ff"/>
<rect x="245" y="125" width="32" height="1" fill="#6666ff"/>
<rect x="245" y="126" width="32" height="1" fill="#f2f2ff"/>
<rect x="245" y="127" width="32" height="2" fill="#ffe0e0"/>
<rect x="245" y="129" width="32" height="3" fill="#fff2f2"/>
<rect x="245" y="132" width="32" height="2" fill="#fafaff"/>
<rect x="245" y="134" width="32" height="2" fill="#ffb2b2"/>
<rect x="245" y="136" width="32" height="4" fill="#fff7f7"/>
<rect x="245" y="140" width="32" height="3" fill="#b2b2ff"/>
<rect x="245" y="143" width="32" height="2" fill="#9999ff"/>
<rect x="245" y="145" width="32" height="5" fill="#ff8080"/>
<rect x="245" y="150" width="32" height="1" fill="#ffd9d9"/>
<rect x="245" y="151" width="32" height="2" fill="#fff7f7"/>
<rect x="245" y="153" width="32" height="1" fill="#ffe6e6"/>
<rect x="245" y="154" width="32" height="1" fill="#fff2f2"/>
<rect x="245" y="155" width="32" height="3" fill="#ff8080"/>
<rect x="245" y="158" width="32" height="4" fill="#fafaff"/>
<rect x="245" y="162" width="32" height="1" fill="#ccccff"/>
<rect x="245" y="163" width="32" height="13" fill="#dedeff"/>
<rect x="245" y="176" width="32" height="1" fill="#b2b2ff"/>
<rect x="245" y="177" width="32" height="1" fill="#fff2f2"/>
<rect x="245" y="178" width="32" height="1" fill="#ffd9d9"/>
<rect x="245" y="181" width="32" height="1" fill="#ffd9d9"/>
<rect x="245" y="183" width="32" height="3" fill="#ffa6a6"/>
<rect x="245" y="186" width="32" height="1" fill="#ffcccc"/>
<rect x="245" y="187" width="32" height="2" fill="#ff6666"/>
<rect x="245" y="189" width="32" height="5" fill="#ff9e9e"/>
<rect x="245" y="194" width="32" height="2" fill="#ff6666"/>
<rect x="245" y="196" width="32" height="3" fill="#ffa6a6"/>
<rect x="245" y="199" width="32" height="2" fill="#ffb2b2"/>
<rect x="245" y="201" width="32" height="2" fill="#ff8c8c"/>
<rect x="245" y="203" width="32" height="5" fill="#ffb8b8"/>
<rect x="245" y="208" width="32" height="4" fill="#ffb2b2"/>
<rect x="245" y="212" width="32" height="1" fill="#fff2f2"/>
<rect x="245" y="213" width="32" height="4" fill="#ffe6e6"/>
<rect x="245" y="217" width="32" height="1" fill="#8080ff"/>
<rect x="245" y="218" width="32" height="2" fill="#f2f2ff"/>
<rect x="245" y="220" width="32" height="3" fill="#4040ff"/>
<rect x="245" y="223" width="32" height="5" fill="#9494ff"/>
<rect x="245" y="228" width="32" height="2" fill="#ff6666"/>
<rect x="245" y="230" width="32" height="4" fill="#fffafa"/>
<rect x="245" y="234" width="32" height="3" fill="#ffb2b2"/>
<rect x="245" y="237" width="32" height="1" fill="#fff2f2"/>
<rect x="245" y="238" width="32" height="3" fill="#ffb2b2"/>
<rect x="245" y="241" width="32" height="2" fill="#e0e0ff"/>
<rect x="245" y="244" width="32" height="3" fill="#8080ff"/>
<rect x="245" y="247" width="32" height="4" fill="#ffbfbf"/>
<rect x="245" y="251" width="32" height="4" fill="#ffabab"/>
<rect x="245" y="255" width="32" height="2" fill="#ffb8b8"/>
<rect x="245" y="258" width="32" height="1" fill="#ff6666"/>
<rect x="245" y="259" width="32" height="3" fill="#ff7373"/>
<rect x="245" y="262" width="32" height="1" fill="#ff2626"/>
<rect x="245" y="263" width="32" height="1" fill="#ff6666"/>
<rect x="245" y="264" width="32" height="4" fill="#ff0505"/>
<rect x="245" y="268" width="32" height="3" fill="#ff7373"/>
<rect x="245" y="271" width="32" height="1" fill="#ff9999"/>
<rect x="245" y="272" width="32" height="2" fill="#ff6666"/>
<rect x="245" y="274" width="32" height="3" fill="#ff1919"/>
<rect x="245" y="277" width="32" height="1" fill="#ffbfbf"/>
<rect x="245" y="278" width="32" height="6" fill="#ffabab"/>
<rect x="245" y="284" width="32" height="3" fill="#ff8080"/>
<rect x="245" y="287" width="32" height="1" fill="#ffe6e6"/>
<rect x="245" y="288" width="32" height="1" fill="#ffbfbf"/>
<rect x="245" y="289" width="32" height="1" fill="#ffe6e6"/>
<rect x="245" y="290" width="32" height="3" fill="#d9d9ff"/>
<rect x="245" y="293" width="32" height="8" fill="#ffe0e0"/>
<rect x="245" y="301" width="32" height="4" fill="#d9d9ff"/>
<rect x="245" y="305" width="32" height="1" fill="#9999ff"/>
<rect x="245" y="306" width="32" height="2" fill="#ccccff"/>
<rect x="245" y="308" width="32" height="1" fill="#ffcccc"/>
<rect x="245" y="310" width="32" height="2" fill="#ffcccc"/>
<rect x="245" y="312" width="32" height="2" fill="#8c8cff"/>
<rect x="245" y="314" width="32" height="4" fill="#8080ff"/>
<rect x="245" y="318" width="32" height="1" fill="#ffb2b2"/>
<rect x="245" y="319" width="32" height="3" fill="#ff0d0d"/>
<rect x="245" y="322" width="32" height="2" fill="#ff1919"/>
<rect x="245" y="324" width="32" height="4" fill="#ff6666"/>
<rect x="245" y="328" width="32" height="2" fill="#ff7373"/>
<rect x="245" y="330" width="32" height="7" fill="#ff2626"/>
<rect x="245" y="337" width="32" height="4" fill="#ff7373"/>
<rect x="245" y="341" width="32" height="5" fill="#ff0808"/>
<rect x="245" y="346" width="32" height="2" fill="#ffa6a6"/>
<rect x="245" y="348" width="32" height="4" fill="#ffb2b2"/>
<rect x="245" y="352" width="32" height="1" fill="#ffcccc"/>
<rect x="245" y="353" width="32" height="2" fill="#ff8080"/>
<rect x="245" y="355" width="32" height="2" fill="#ffb8b8"/>
<rect x="245" y="357" width="32" height="3" fill="#ffc7c7"/>
<rect x="245" y="360" width="32" height="1" fill="#ff7373"/>
<rect x="245" y="361" width="32" height="1" fill="#ffb2b2"/>
<rect x="245" y="362" width="32" height="2" fill="#ff6666"/>
<rect x="245" y="367" width="32" height="2" fill="#a6a6ff"/>
<rect x="245" y="369" width="32" height="1" fill="#8080ff"/>
<rect x="245" y="370" width="32" height="2" fill="#a6a6ff"/>
<rect x="245" y="372" width="32" height="3" fill="#7373ff"/>
<rect x="245" y="375" width="32" height="1" fill="#fafaff"/>
<rect x="245" y="376" width="32" height="1" fill="#ff8c8c"/>
<rect x="245" y="377" width="32" height="2" fill="#ffb2b2"/>
<rect x="245" y="379" width="32" height="2" fill="#ff8c8c"/>
<rect x="245" y="381" width="32" height="2" fill="#ffbfbf"/>
<rect x="245" y="383" width="32" height="2" fill="#ff8080"/>
<rect x="245" y="385" width="32" height="6" fill="#ffe0e0"/>
<rect x="245" y="391" width="32" height="3" fill="#7373ff"/>
<rect x="245" y="394" width="32" height="7" fill="#ff1919"/>
<rect x="245" y="401" width="32" height="4" fill="#ffabab"/>
<rect x="245" y="408" width="32" height="2" fill="#ffcccc"/>
<rect x="245" y="410" width="32" height="1" fill="#fff2f2"/>
<rect x="245" y="411" width="32" height="1" fill="#ffbfbf"/>
<rect x="245" y="412" width="32" height="3" fill="#ebebff"/>
<rect x="245" y="415" width="32" height="1" fill="#ffe6e6"/>
<rect x="245" y="416" width="32" height="1" fill="#fff2f2"/>
<rect x="245" y="417" width="32" height="4" fill="#ff5959"/>
<rect x="245" y="421" width="32" height="1" fill="#ff7373"/>
<rect x="245" y="422" width="32" height="4" fill="#ff1414"/>
<rect x="245" y="426" width="32" height="2" fill="#ff5959"/>
<rect x="245" y="428" width="32" height="4" fill="#ff4747"/>
<rect x="245" y="432" width="32" height="1" fill="#ff7373"/>
<rect x="245" y="433" width="32" height="2" fill="#ff5959"/>
<rect x="277" y="67" width="32" height="2" fill="#ff7373"/>
<rect x="277" y="69" width="32" height="1" fill="#ff9999"/>
<rect x="277" y="70" width="32" height="2" fill="#ffbfbf"/>
<rect x="277" y="72" width="32" height="1" fill="#ffd9d9"/>
<rect x="277" y="73" width="32" height="5" fill="#ff1414"/>
<rect x="277" y="78" width="32" height="4" fill="#ff6666"/>
<rect x="277" y="82" width="32" height="1" fill="#ff4040"/>
<rect x="277" y="83" width="32" height="2" fill="#ff8080"/>
<rect x="277" y="85" width="32" height="2" fill="#ffa6a6"/>
<rect x="277" y="87" width="32" height="5" fill="#ffbfbf"/>
<rect x="277" y="92" width="32" height="3" fill="#f2f2ff"/>
<rect x="277" y="95" width="32" height="1" fill="#ffd9d9"/>
<rect x="277" y="96" width="32" height="1" fill="#ff9999"/>
<rect x="277" y="97" width="32" height="3" fill="#ff7373"/>
<rect x="277" y="100" width="32" height="3" fill="#ffb2b2"/>
<rect x="277" y="107" width="32" height="1" fill="#ff1919"/>
<rect x="277" y="108" width="32" height="3" fill="#ff6666"/>
<rect x="277" y="111" width="32" height="8" fill="#ff1919"/>
<rect x="277" y="119" width="32" height="4" fill="#ababff"/>
<rect x="277" y="123" width="32" height="2" fill="#fff2f2"/>
<rect x="277" y="125" width="32" height="1" fill="#ffcccc"/>
<rect x="277" y="126" width="32" height="1" fill="#fff2f2"/>
<rect x="277" y="127" width="32" height="3" fill="#6666ff"/>
<rect x="277" y="130" width="32" height="1" fill="#f2f2ff"/>
<rect x="277" y="131" width="32" height="1" fill="#ffb2b2"/>
<rect x="277" y="132" width="32" height="1" fill="#ffd9d9"/>
<rect x="277" y="133" width="32" height="3" fill="#ff9999"/>
<rect x="277" y="136" width="32" height="1" fill="#ffe6e6"/>
<rect x="277" y="137" width="32" height="2" fill="#ff6666"/>
<rect x="277" y="139" width="32" height="3" fill="#ffcccc"/>
<rect x="277" y="142" width="32" height="1" fill="#ffb2b2"/>
<rect x="277" y="143" width="32" height="2" fill="#fffafa"/>
<rect x="277" y="145" width="32" height="5" fill="#ffb8b8"/>
<rect x="277" y="150" width="32" height="3" fill="#ffbfbf"/>
<rect x="277" y="153" width="32" height="1" fill="#ffe6e6"/>
<rect x="277" y="154" width="32" height="3" fill="#a6a6ff"/>
<rect x="277" y="157" width="32" height="1" fill="#bfbfff"/>
<rect x="277" y="158" width="32" height="3" fill="#d9d9ff"/>
<rect x="277" y="161" width="32" height="1" fill="#fff2f2"/>
<rect x="277" y="162" width="32" height="1" fill="#ffd9d9"/>
<rect x="277" y="163" width="32" height="3" fill="#fafaff"/>
<rect x="277" y="166" width="32" height="10" fill="#ff8080"/>
<rect x="277" y="176" width="32" height="1" fill="#ffe6e6"/>
<rect x="277" y="177" width="32" height="2" fill="#fafaff"/>
<rect x="277" y="179" width="32" height="1" fill="#fff2f2"/>
<rect x="277" y="180" width="32" height="1" fill="#fafaff"/>
<rect x="277" y="181" width="32" height="2" fill="#bfbfff"/>
<rect x="277" y="183" width="32" height="2" fill="#ffb2b2"/>
<rect x="277" y="185" width="32" height="1" fill="#fff7f7"/>
<rect x="277" y="186" width="32" height="1" fill="#ffbfbf"/>
<rect x="277" y="187" width="32" height="2" fill="#fff2f2"/>
<rect x="277" y="189" width="32" height="3" fill="#ffb2b2"/>
<rect x="277" y="192" width="32" height="4" fill="#ff9999"/>
<rect x="277" y="196" width="32" height="3" fill="#ff6666"/>
<rect x="277" y="199" width="32" height="2" fill="#ff9999"/>
<rect x="277" y="201" width="32" height="1" fill="#ffb2b2"/>
<rect x="277" y="202" width="32" height="2" fill="#ffe6e6"/>
<rect x="277" y="204" width="32" height="4" fill="#ff8080"/>
<rect x="277" y="208" width="32" height="3" fill="#ff5959"/>
<rect x="277" y="211" width="32" height="1" fill="#ff4d4d"/>
<rect x="277" y="212" width="32" height="6" fill="#ff6666"/>
<rect x="277" y="218" width="32" height="2" fill="#ff0d0d"/>
<rect x="277" y="220" width="32" height="3" fill="#ff4d4d"/>
<rect x="277" y="223" width="32" height="5" fill="#ff6666"/>
<rect x="277" y="228" width="32" height="2" fill="#4d4dff"/>
<rect x="277" y="230" width="32" height="4" fill="#7373ff"/>
<rect x="277" y="234" width="32" height="3" fill="#2626ff"/>
<rect x="277" y="237" width="32" height="3" fill="#8080ff"/>
<rect x="277" y="240" width="32" height="1" fill="#4d4dff"/>
<rect x="277" y="241" width="32" height="1" fill="#ccccff"/>
<rect x="277" y="242" width="32" height="2" fill="#8c8cff"/>
<rect x="277" y="244" width="32" height="3" fill="#ffe6e6"/>
<rect x="277" y="247" width="32" height="2" fill="#8c8cff"/>
<rect x="277" y="249" width="32" height="6" fill="#6b6bff"/>
<rect x="277" y="255" width="32" height="2" fill="#8080ff"/>
<rect x="277" y="257" width="32" height="2" fill="#a6a6ff"/>
<rect x="277" y="259" width="32" height="2" fill="#ababff"/>
<rect x="277" y="263" width="32" height="1" fill="#9999ff"/>
<rect x="277" y="264" width="32" height="4" fill="#ffe6e6"/>
<rect x="277" y="268" width="32" height="4" fill="#ffb8b8"/>
<rect x="277" y="272" width="32" height="2" fill="#a6a6ff"/>
<rect x="277" y="274" width="32" height="1" fill="#e6e6ff"/>
<rect x="277" y="275" width="32" height="1" fill="#a6a6ff"/>
<rect x="277" y="276" width="32" height="1" fill="#fff2f2"/>
<rect x="277" y="277" width="32" height="2" fill="#ffb2b2"/>
<rect x="277" y="279" width="32" height="5" fill="#ff7373"/>
<rect x="277" y="284" width="32" height="4" fill="#ffabab"/>
<rect x="277" y="288" width="32" height="1" fill="#ff8080"/>
<rect x="277" y="289" width="32" height="4" fill="#ff2626"/>
<rect x="277" y="293" width="32" height="8" fill="#ff0d0d"/>
<rect x="277" y="301" width="32" height="4" fill="#ff3333"/>
<rect x="277" y="308" width="32" height="3" fill="#ffcccc"/>
<rect x="277" y="311" width="32" height="1" fill="#ff3333"/>
<rect x="277" y="312" width="32" height="2" fill="#ffe6e6"/>
<rect x="277" y="314" width="32" height="4" fill="#ff6161"/>
<rect x="277" y="318" width="32" height="1" fill="#ccccff"/>
<rect x="277" y="319" width="32" height="3" fill="#fffafa"/>
<rect x="277" y="322" width="32" height="2" fill="#e0e0ff"/>
<rect x="277" y="324" width="32" height="3" fill="#b2b2ff"/>
<rect x="277" y="327" width="32" height="3" fill="#8080ff"/>
<rect x="277" y="330" width="32" height="7" fill="#d1d1ff"/>
<rect x="277" y="337" width="32" height="4" fill="#ffb8b8"/>
<rect x="277" y="341" width="32" height="1" fill="#ffd9d9"/>
<rect x="277" y="342" width="32" height="4" fill="#ffebeb"/>
<rect x="277" y="346" width="32" height="3" fill="#ff6666"/>
<rect x="277" y="349" width="32" height="2" fill="#ffb2b2"/>
<rect x="277" y="351" width="32" height="1" fill="#ff8c8c"/>
<rect x="277" y="352" width="32" height="2" fill="#ff6666"/>
<rect x="277" y="354" width="32" height="1" fill="#ff9999"/>
<rect x="277" y="355" width="32" height="2" fill="#ff7373"/>
<rect x="277" y="357" width="32" height="1" fill="#ffb2b2"/>
<rect x="277" y="358" width="32" height="1" fill="#ff8c8c"/>
<rect x="277" y="359" width="32" height="2" fill="#ffb2b2"/>
<rect x="277" y="361" width="32" height="1" fill="#ff8080"/>
<rect x="277" y="362" width="32" height="3" fill="#ffb2b2"/>
<rect x="277" y="365" width="32" height="2" fill="#ffd9d9"/>
<rect x="277" y="367" width="32" height="3" fill="#ff5959"/>
<rect x="277" y="370" width="32" height="3" fill="#ff6666"/>
<rect x="277" y="373" width="32" height="2" fill="#ff4d4d"/>
<rect x="277" y="375" width="32" height="1" fill="#ff0d0d"/>
<rect x="277" y="376" width="32" height="2" fill="#ffd9d9"/>
<rect x="277" y="378" width="32" height="4" fill="#fff7f7"/>
<rect x="277" y="382" width="32" height="4" fill="#ffb2b2"/>
<rect x="277" y="386" width="32" height="5" fill="#ff0505"/>
<rect x="277" y="391" width="32" height="3" fill="#8c8cff"/>
<rect x="277" y="394" width="32" height="3" fill="#a6a6ff"/>
<rect x="277" y="397" width="32" height="2" fill="#4d4dff"/>
<rect x="277" y="399" width="32" height="6" fill="#4747ff"/>
<rect x="277" y="405" width="32" height="5" fill="#8080ff"/>
<rect x="277" y="410" width="32" height="1" fill="#a6a6ff"/>
<rect x="277" y="411" width="32" height="2" fill="#8080ff"/>
<rect x="277" y="413" width="32" height="1" fill="#d9d9ff"/>
<rect x="277" y="414" width="32" height="1" fill="#ffe6e6"/>
<rect x="277" y="415" width="32" height="3" fill="#a6a6ff"/>
<rect x="277" y="418" width="32" height="2" fill="#d9d9ff"/>
<rect x="277" y="420" width="32" height="2" fill="#8c8cff"/>
<rect x="277" y="422" width="32" height="3" fill="#2626ff"/>
<rect x="277" y="425" width="32" height="1" fill="#7373ff"/>
<rect x="277" y="426" width="32" height="1" fill="#9999ff"/>
<rect x="277" y="427" width="32" height="5" fill="#4747ff"/>
<rect x="277" y="432" width="32" height="1" fill="#9999ff"/>
<rect x="277" y="433" width="32" height="2" fill="#b2b2ff"/>
<rect x="309" y="67" width="32" height="3" fill="#ffb2b2"/>
<rect x="309" y="70" width="32" height="2" fill="#ff7373"/>
<rect x="309" y="72" width="32" height="1" fill="#ffcccc"/>
<rect x="309" y="73" width="32" height="1" fill="#e0e0ff"/>
<rect x="309" y="74" width="32" height="4" fill="#ffd1d1"/>
<rect x="309" y="78" width="32" height="4" fill="#ffe0e0"/>
<rect x="309" y="82" width="32" height="1" fill="#d9d9ff"/>
<rect x="309" y="83" width="32" height="3" fill="#ffebeb"/>
<rect x="309" y="86" width="32" height="2" fill="#d9d9ff"/>
<rect x="309" y="88" width="32" height="3" fill="#ffa6a6"/>
<rect x="309" y="91" width="32" height="1" fill="#ff6666"/>
<rect x="309" y="92" width="32" height="1" fill="#fff2f2"/>
<rect x="309" y="93" width="32" height="2" fill="#ff9999"/>
<rect x="309" y="95" width="32" height="2" fill="#ff7373"/>
<rect x="309" y="97" width="32" height="3" fill="#ffb2b2"/>
<rect x="309" y="100" width="32" height="4" fill="#ffe6e6"/>
<rect x="309" y="104" width="32" height="3" fill="#ededff"/>
<rect x="309" y="107" width="32" height="3" fill="#c7c7ff"/>
<rect x="309" y="110" width="32" height="1" fill="#a6a6ff"/>
<rect x="309" y="111" width="32" height="4" fill="#c7c7ff"/>
<rect x="309" y="115" width="32" height="1" fill="#ccccff"/>
<rect x="309" y="116" width="32" height="3" fill="#f7f7ff"/>
<rect x="309" y="119" width="32" height="4" fill="#d9d9ff"/>
<rect x="309" y="123" width="32" height="1" fill="#ffd9d9"/>
<rect x="309" y="124" width="32" height="1" fill="#b2b2ff"/>
<rect x="309" y="127" width="32" height="3" fill="#ffa6a6"/>
<rect x="309" y="130" width="32" height="3" fill="#ffb2b2"/>
<rect x="309" y="133" width="32" height="1" fill="#ffe6e6"/>
<rect x="309" y="134" width="32" height="2" fill="#ff6666"/>
<rect x="309" y="136" width="32" height="3" fill="#ffa6a6"/>
<rect x="309" y="139" width="32" height="3" fill="#ff7373"/>
<rect x="309" y="142" width="32" height="2" fill="#ffd9d9"/>
<rect x="309" y="144" width="32" height="1" fill="#ff1919"/>
<rect x="309" y="145" width="32" height="6" fill="#9e9eff"/>
<rect x="309" y="151" width="32" height="2" fill="#e0e0ff"/>
<rect x="309" y="153" width="32" height="1" fill="#9999ff"/>
<rect x="309" y="154" width="32" height="4" fill="#d9d9ff"/>
<rect x="309" y="158" width="32" height="3" fill="#fff0f0"/>
<rect x="309" y="161" width="32" height="2" fill="#f2f2ff"/>
<rect x="309" y="163" width="32" height="3" fill="#f5f5ff"/>
<rect x="309" y="166" width="32" height="10" fill="#9191ff"/>
<rect x="309" y="176" width="32" height="1" fill="#b2b2ff"/>
<rect x="309" y="177" width="32" height="4" fill="#d9d9ff"/>
<rect x="309" y="181" width="32" height="2" fill="#ffa6a6"/>
<rect x="309" y="183" width="32" height="1" fill="#fff2f2"/>
<rect x="309" y="184" width="32" height="1" fill="#ffe0e0"/>
<rect x="309" y="185" width="32" height="2" fill="#fff7f7"/>
<rect x="309" y="187" width="32" height="2" fill="#ffe0e0"/>
<rect x="309" y="189" width="32" height="3" fill="#ffb2b2"/>
<rect x="309" y="192" width="32" height="2" fill="#ff6666"/>
<rect x="309" y="194" width="32" height="2" fill="#ffb2b2"/>
<rect x="309" y="196" width="32" height="5" fill="#ffa6a6"/>
<rect x="309" y="201" width="32" height="1" fill="#8080ff"/>
<rect x="309" y="202" width="32" height="1" fill="#b2b2ff"/>
<rect x="309" y="203" width="32" height="8" fill="#ababff"/>
<rect x="309" y="211" width="32" height="1" fill="#b2b2ff"/>
<rect x="309" y="212" width="32" height="1" fill="#6666ff"/>
<rect x="309" y="213" width="32" height="4" fill="#d9d9ff"/>
<rect x="309" y="217" width="32" height="11" fill="#5959ff"/>
<rect x="309" y="228" width="32" height="7" fill="#ff6666"/>
<rect x="309" y="235" width="32" height="3" fill="#ff0d0d"/>
<rect x="309" y="238" width="32" height="2" fill="#ff6666"/>
<rect x="309" y="240" width="32" height="2" fill="#ccccff"/>
<rect x="309" y="242" width="32" height="1" fill="#ffb2b2"/>
<rect x="309" y="243" width="32" height="1" fill="#ff6666"/>
<rect x="309" y="244" width="32" height="2" fill="#ff0505"/>
<rect x="309" y="246" width="32" height="1" fill="#ffb2b2"/>
<rect x="309" y="247" width="32" height="2" fill="#e0e0ff"/>
<rect x="309" y="249" width="32" height="4" fill="#ffe0e0"/>
<rect x="309" y="253" width="32" height="2" fill="#ffb2b2"/>
<rect x="309" y="255" width="32" height="2" fill="#ff6666"/>
<rect x="309" y="259" width="32" height="2" fill="#fff7f7"/>
<rect x="309" y="261" width="32" height="1" fill="#9999ff"/>
<rect x="309" y="262" width="32" height="2" fill="#b2b2ff"/>
<rect x="309" y="264" width="32" height="4" fill="#8080ff"/>
<rect x="309" y="268" width="32" height="4" fill="#9e9eff"/>
<rect x="309" y="273" width="32" height="2" fill="#ff4d4d"/>
<rect x="309" y="275" width="32" height="1" fill="#ffb2b2"/>
<rect x="309" y="276" width="32" height="1" fill="#b2b2ff"/>
<rect x="309" y="277" width="32" height="2" fill="#ff6666"/>
<rect x="309" y="279" width="32" height="5" fill="#ffa6a6"/>
<rect x="309" y="287" width="32" height="1" fill="#d9d9ff"/>
<rect x="309" y="288" width="32" height="1" fill="#ffcccc"/>
<rect x="309" y="289" width="32" height="1" fill="#b2b2ff"/>
<rect x="309" y="290" width="32" height="4" fill="#ededff"/>
<rect x="309" y="294" width="32" height="7" fill="#ffd9d9"/>
<rect x="309" y="301" width="32" height="4" fill="#ededff"/>
<rect x="309" y="305" width="32" height="3" fill="#ccccff"/>
<rect x="309" y="308" width="32" height="1" fill="#ffb2b2"/>
<rect x="309" y="310" width="32" height="1" fill="#ffb2b2"/>
<rect x="309" y="311" width="32" height="1" fill="#e0e0ff"/>
<rect x="309" y="312" width="32" height="2" fill="#ffa6a6"/>
<rect x="309" y="314" width="32" height="4" fill="#a6a6ff"/>
<rect x="309" y="318" width="32" height="1" fill="#f2f2ff"/>
<rect x="309" y="319" width="32" height="5" fill="#e6e6ff"/>
<rect x="309" y="324" width="32" height="1" fill="#fff7f7"/>
<rect x="309" y="325" width="32" height="2" fill="#e6e6ff"/>
<rect x="309" y="327" width="32" height="3" fill="#ffa6a6"/>
<rect x="309" y="330" width="32" height="7" fill="#ffe6e6"/>
<rect x="309" y="341" width="32" height="2" fill="#ffb2b2"/>
<rect x="309" y="343" width="32" height="3" fill="#fff2f2"/>
<rect x="309" y="346" width="32" height="3" fill="#d9d9ff"/>
<rect x="309" y="349" width="32" height="1" fill="#ffd9d9"/>
<rect x="309" y="350" width="32" height="2" fill="#ff8080"/>
<rect x="309" y="352" width="32" height="5" fill="#ffa6a6"/>
<rect x="309" y="357" width="32" height="2" fill="#ff8080"/>
<rect x="309" y="359" width="32" height="3" fill="#7373ff"/>
<rect x="309" y="362" width="32" height="1" fill="#4040ff"/>
<rect x="309" y="363" width="32" height="1" fill="#a6a6ff"/>
<rect x="309" y="364" width="32" height="1" fill="#6666ff"/>
<rect x="309" y="365" width="32" height="1" fill="#8c8cff"/>
<rect x="309" y="366" width="32" height="8" fill="#5959ff"/>
<rect x="309" y="374" width="32" height="1" fill="#9999ff"/>
<rect x="309" y="375" width="32" height="1" fill="#6666ff"/>
<rect x="309" y="376" width="32" height="5" fill="#8080ff"/>
<rect x="309" y="381" width="32" height="1" fill="#b2b2ff"/>
<rect x="309" y="382" width="32" height="3" fill="#3838ff"/>
<rect x="309" y="385" width="32" height="6" fill="#5959ff"/>
<rect x="309" y="391" width="32" height="3" fill="#6666ff"/>
<rect x="309" y="394" width="32" height="5" fill="#ffb2b2"/>
<rect x="309" y="399" width="32" height="1" fill="#ff7373"/>
<rect x="309" y="400" width="32" height="5" fill="#ffabab"/>
<rect x="309" y="405" width="32" height="4" fill="#ffb8b8"/>
<rect x="309" y="409" width="32" height="1" fill="#ffd9d9"/>
<rect x="309" y="410" width="32" height="2" fill="#ff6666"/>
<rect x="309" y="412" width="32" height="2" fill="#ff0505"/>
<rect x="309" y="414" width="32" height="2" fill="#ff5959"/>
<rect x="309" y="416" width="32" height="1" fill="#ff7373"/>
<rect x="309" y="417" width="32" height="1" fill="#ff5959"/>
<rect x="309" y="418" width="32" height="2" fill="#ff1919"/>
<rect x="309" y="420" width="32" height="2" fill="#ff5959"/>
<rect x="309" y="422" width="32" height="2" fill="#ff0505"/>
<rect x="309" y="424" width="32" height="4" fill="#ff6161"/>
<rect x="309" y="428" width="32" height="4" fill="#ff4d4d"/>
<rect x="309" y="432" width="32" height="1" fill="#ff7373"/>
<rect x="309" y="433" width="32" height="2" fill="#ff4d4d"/>
<rect x="341" y="67" width="32" height="2" fill="#ffbfbf"/>
<rect x="341" y="70" width="32" height="1" fill="#ffa6a6"/>
<rect x="341" y="71" width="32" height="2" fill="#ff5959"/>
<rect x="341" y="73" width="32" height="1" fill="#ffd9d9"/>
<rect x="341" y="74" width="32" height="4" fill="#ffb2b2"/>
<rect x="341" y="78" width="32" height="4" fill="#f0f0ff"/>
<rect x="341" y="82" width="32" height="4" fill="#f2f2ff"/>
<rect x="341" y="86" width="32" height="2" fill="#a6a6ff"/>
<rect x="341" y="88" width="32" height="3" fill="#ff6161"/>
<rect x="341" y="91" width="32" height="1" fill="#ff4040"/>
<rect x="341" y="92" width="32" height="1" fill="#ff8080"/>
<rect x="341" y="93" width="32" height="7" fill="#ffabab"/>
<rect x="341" y="100" width="32" height="4" fill="#ff0000"/>
<rect x="341" y="104" width="32" height="3" fill="#ff6161"/>
<rect x="341" y="107" width="32" height="1" fill="#ff2626"/>
<rect x="341" y="108" width="32" height="1" fill="#ff6666"/>
<rect x="341" y="109" width="32" height="1" fill="#ff0d0d"/>
<rect x="341" y="110" width="32" height="5" fill="#ff7373"/>
<rect x="341" y="115" width="32" height="1" fill="#ff6666"/>
<rect x="341" y="116" width="32" height="3" fill="#ff1414"/>
<rect x="341" y="119" width="32" height="6" fill="#ffabab"/>
<rect x="341" y="125" width="32" height="3" fill="#ff1919"/>
<rect x="341" y="130" width="32" height="2" fill="#ff4d4d"/>
<rect x="341" y="132" width="32" height="4" fill="#ff9e9e"/>
<rect x="341" y="136" width="32" height="3" fill="#ffbfbf"/>
<rect x="341" y="139" width="32" height="4" fill="#ffa6a6"/>
<rect x="341" y="143" width="32" height="2" fill="#ffe6e6"/>
<rect x="341" y="145" width="32" height="9" fill="#ff1414"/>
<rect x="341" y="154" width="32" height="4" fill="#ff5959"/>
<rect x="341" y="158" width="32" height="3" fill="#ff9999"/>
<rect x="341" y="161" width="32" height="1" fill="#ff4d4d"/>
<rect x="341" y="162" width="32" height="1" fill="#ff1919"/>
<rect x="341" y="163" width="32" height="3" fill="#ff6161"/>
<rect x="341" y="166" width="32" height="11" fill="#ff7373"/>
<rect x="341" y="177" width="32" height="2" fill="#a6a6ff"/>
<rect x="341" y="179" width="32" height="2" fill="#ffe0e0"/>
<rect x="341" y="181" width="32" height="4" fill="#f2f2ff"/>
<rect x="341" y="185" width="32" height="4" fill="#ffebeb"/>
<rect x="341" y="189" width="32" height="3" fill="#ffbfbf"/>
<rect x="341" y="192" width="32" height="2" fill="#ffa6a6"/>
<rect x="341" y="194" width="32" height="7" fill="#ffbfbf"/>
<rect x="341" y="201" width="32" height="1" fill="#ff4d4d"/>
<rect x="341" y="202" width="32" height="2" fill="#ff0d0d"/>
<rect x="341" y="204" width="32" height="9" fill="#ff6666"/>
<rect x="341" y="213" width="32" height="4" fill="#ff1919"/>
<rect x="341" y="217" width="32" height="3" fill="#ff5959"/>
<rect x="341" y="220" width="32" height="8" fill="#ff1f1f"/>
<rect x="341" y="228" width="32" height="7" fill="#d9d9ff"/>
<rect x="341" y="235" width="32" height="3" fill="#ffe0e0"/>
<rect x="341" y="238" width="32" height="2" fill="#ffb2b2"/>
<rect x="341" y="242" width="32" height="2" fill="#ffa6a6"/>
<rect x="341" y="244" width="32" height="3" fill="#ffcccc"/>
<rect x="341" y="247" width="32" height="2" fill="#ff7373"/>
<rect x="341" y="249" width="32" height="4" fill="#ff1919"/>
<rect x="341" y="253" width="32" height="2" fill="#ff6666"/>
<rect x="341" y="255" width="32" height="1" fill="#ff9999"/>
<rect x="341" y="256" width="32" height="2" fill="#fff2f2"/>
<rect x="341" y="258" width="32" height="1" fill="#ff1919"/>
<rect x="341" y="259" width="32" height="1" fill="#ff2626"/>
<rect x="341" y="260" width="32" height="1" fill="#ff9999"/>
<rect x="341" y="261" width="32" height="3" fill="#ff7373"/>
<rect x="341" y="264" width="32" height="4" fill="#ff5959"/>
<rect x="341" y="268" width="32" height="5" fill="#ff1414"/>
<rect x="341" y="273" width="32" height="2" fill="#ff6666"/>
<rect x="341" y="275" width="32" height="2" fill="#ff8080"/>
<rect x="341" y="277" width="32" height="2" fill="#ffa6a6"/>
<rect x="341" y="279" width="32" height="6" fill="#ffbfbf"/>
<rect x="341" y="285" width="32" height="2" fill="#e6e6ff"/>
<rect x="341" y="287" width="32" height="1" fill="#a6a6ff"/>
<rect x="341" y="288" width="32" height="1" fill="#e6e6ff"/>
<rect x="341" y="289" width="32" height="1" fill="#b2b2ff"/>
<rect x="341" y="290" width="32" height="4" fill="#ffe6e6"/>
<rect x="341" y="294" width="32" height="7" fill="#ffb8b8"/>
<rect x="341" y="301" width="32" height="4" fill="#ff6161"/>
<rect x="341" y="305" width="32" height="3" fill="#a6a6ff"/>
<rect x="341" y="308" width="32" height="2" fill="#fff7f7"/>
<rect x="341" y="310" width="32" height="2" fill="#ff6666"/>
<rect x="341" y="312" width="32" height="2" fill="#ffbfbf"/>
<rect x="341" y="314" width="32" height="4" fill="#ff7373"/>
<rect x="341" y="318" width="32" height="4" fill="#ff1414"/>
<rect x="341" y="322" width="32" height="2" fill="#ff3333"/>
<rect x="341" y="324" width="32" height="1" fill="#ff0d0d"/>
<rect x="341" y="325" width="32" height="2" fill="#ff4d4d"/>
<rect x="341" y="327" width="32" height="3" fill="#ff6666"/>
<rect x="341" y="330" width="32" height="7" fill="#ffebeb"/>
<rect x="341" y="337" width="32" height="4" fill="#ebebff"/>
<rect x="341" y="341" width="32" height="2" fill="#ffb2b2"/>
<rect x="341" y="343" width="32" height="3" fill="#f2f2ff"/>
<rect x="341" y="346" width="32" height="4" fill="#ff0d0d"/>
<rect x="341" y="350" width="32" height="1" fill="#ff9999"/>
<rect x="341" y="351" width="32" height="4" fill="#ffb2b2"/>
<rect x="341" y="355" width="32" height="3" fill="#ffbfbf"/>
<rect x="341" y="358" width="32" height="1" fill="#ff9999"/>
<rect x="341" y="359" width="32" height="2" fill="#ff5959"/>
<rect x="341" y="361" width="32" height="4" fill="#ff1919"/>
<rect x="341" y="365" width="32" height="1" fill="#ff4d4d"/>
<rect x="341" y="366" width="32" height="8" fill="#ff1f1f"/>
<rect x="341" y="374" width="32" height="4" fill="#ff5959"/>
<rect x="341" y="378" width="32" height="3" fill="#ff2626"/>
<rect x="341" y="381" width="32" height="1" fill="#ff7373"/>
<rect x="341" y="382" width="32" height="4" fill="#ff1919"/>
<rect x="341" y="386" width="32" height="5" fill="#ff5959"/>
<rect x="341" y="391" width="32" height="3" fill="#ff1f1f"/>
<rect x="341" y="394" width="32" height="5" fill="#ff6161"/>
<rect x="341" y="399" width="32" height="1" fill="#ff9999"/>
<rect x="341" y="400" width="32" height="1" fill="#fff2f2"/>
<rect x="341" y="401" width="32" height="8" fill="#ff6161"/>
<rect x="341" y="409" width="32" height="1" fill="#ff1919"/>
<rect x="341" y="410" width="32" height="2" fill="#ffb2b2"/>
<rect x="341" y="412" width="32" height="2" fill="#ffd9d9"/>
<rect x="341" y="414" width="32" height="5" fill="#ffa6a6"/>
<rect x="341" y="419" width="32" height="1" fill="#ffb2b2"/>
<rect x="341" y="421" width="32" height="1" fill="#ffb2b2"/>
<rect x="341" y="422" width="32" height="2" fill="#fff2f2"/>
<rect x="341" y="424" width="32" height="4" fill="#ffa6a6"/>
<rect x="341" y="428" width="32" height="4" fill="#d9d9ff"/>
<rect x="341" y="432" width="32" height="1" fill="#a6a6ff"/>
<rect x="341" y="433" width="32" height="2" fill="#e6e6ff"/>
<rect x="373" y="67" width="32" height="2" fill="#5252ff"/>
<rect x="373" y="69" width="32" height="1" fill="#6b6bff"/>
<rect x="373" y="70" width="32" height="2" fill="#4747ff"/>
<rect x="373" y="72" width="32" height="2" fill="#7a7aff"/>
<rect x="373" y="74" width="32" height="4" fill="#5252ff"/>
<rect x="373" y="78" width="32" height="10" fill="#9494ff"/>
<rect x="373" y="88" width="32" height="3" fill="#8080ff"/>
<rect x="373" y="91" width="32" height="1" fill="#4d4dff"/>
<rect x="373" y="92" width="32" height="1" fill="#8080ff"/>
<rect x="373" y="93" width="32" height="4" fill="#4d4dff"/>
<rect x="373" y="97" width="32" height="3" fill="#5959ff"/>
<rect x="373" y="100" width="32" height="4" fill="#2626ff"/>
<rect x="373" y="104" width="32" height="3" fill="#0d0dff"/>
<rect x="373" y="107" width="32" height="2" fill="#7373ff"/>
<rect x="373" y="109" width="32" height="1" fill="#2626ff"/>
<rect x="373" y="110" width="32" height="5" fill="#8080ff"/>
<rect x="373" y="115" width="32" height="1" fill="#7373ff"/>
<rect x="373" y="116" width="32" height="3" fill="#1f1fff"/>
<rect x="373" y="119" width="32" height="6" fill="#6b6bff"/>
<rect x="373" y="125" width="32" height="2" fill="#a6a6ff"/>
<rect x="373" y="127" width="32" height="1" fill="#8080ff"/>
<rect x="373" y="128" width="32" height="2" fill="#9494ff"/>
<rect x="373" y="130" width="32" height="3" fill="#8080ff"/>
<rect x="373" y="133" width="32" height="6" fill="#4d4dff"/>
<rect x="373" y="139" width="32" height="4" fill="#5757ff"/>
<rect x="373" y="143" width="32" height="1" fill="#8c8cff"/>
<rect x="373" y="144" width="32" height="10" fill="#2e2eff"/>
<rect x="373" y="154" width="32" height="4" fill="#0d0dff"/>
<rect x="373" y="158" width="32" height="3" fill="#8080ff"/>
<rect x="373" y="161" width="32" height="1" fill="#9999ff"/>
<rect x="373" y="162" width="32" height="1" fill="#7373ff"/>
<rect x="373" y="163" width="32" height="3" fill="#0d0dff"/>
<rect x="373" y="166" width="32" height="11" fill="#8080ff"/>
<rect x="373" y="177" width="32" height="4" fill="#9494ff"/>
<rect x="373" y="181" width="32" height="2" fill="#8080ff"/>
<rect x="373" y="183" width="32" height="2" fill="#9999ff"/>
<rect x="373" y="185" width="32" height="1" fill="#8080ff"/>
<rect x="373" y="186" width="32" height="1" fill="#9999ff"/>
<rect x="373" y="187" width="32" height="2" fill="#8585ff"/>
<rect x="373" y="189" width="32" height="3" fill="#6161ff"/>
<rect x="373" y="192" width="32" height="2" fill="#4747ff"/>
<rect x="373" y="194" width="32" height="7" fill="#5757ff"/>
<rect x="373" y="201" width="32" height="2" fill="#8c8cff"/>
<rect x="373" y="203" width="32" height="1" fill="#1919ff"/>
<rect x="373" y="204" width="32" height="9" fill="#8080ff"/>
<rect x="373" y="213" width="32" height="4" fill="#2626ff"/>
<rect x="373" y="217" width="32" height="3" fill="#8080ff"/>
<rect x="373" y="220" width="32" height="15" fill="#a3a3ff"/>
<rect x="373" y="235" width="32" height="3" fill="#8080ff"/>
<rect x="373" y="238" width="32" height="2" fill="#4d4dff"/>
<rect x="373" y="240" width="32" height="2" fill="#8080ff"/>
<rect x="373" y="242" width="32" height="2" fill="#4d4dff"/>
<rect x="373" y="244" width="32" height="1" fill="#8080ff"/>
<rect x="373" y="245" width="32" height="2" fill="#5959ff"/>
<rect x="373" y="247" width="32" height="2" fill="#9999ff"/>
<rect x="373" y="249" width="32" height="1" fill="#1f1fff"/>
<rect x="373" y="250" width="32" height="3" fill="#9e9eff"/>
<rect x="373" y="253" width="32" height="2" fill="#8080ff"/>
<rect x="373" y="255" width="32" height="2" fill="#5959ff"/>
<rect x="373" y="257" width="32" height="2" fill="#8080ff"/>
<rect x="373" y="259" width="32" height="1" fill="#7373ff"/>
<rect x="373" y="260" width="32" height="8" fill="#8080ff"/>
<rect x="373" y="268" width="32" height="5" fill="#2e2eff"/>
<rect x="373" y="273" width="32" height="2" fill="#4d4dff"/>
<rect x="373" y="275" width="32" height="2" fill="#8080ff"/>
<rect x="373" y="277" width="32" height="8" fill="#5454ff"/>
<rect x="373" y="285" width="32" height="4" fill="#9494ff"/>
<rect x="373" y="289" width="32" height="5" fill="#8585ff"/>
<rect x="373" y="294" width="32" height="7" fill="#5454ff"/>
<rect x="373" y="301" width="32" height="4" fill="#8c8cff"/>
<rect x="373" y="305" width="32" height="2" fill="#9999ff"/>
<rect x="373" y="307" width="32" height="3" fill="#9494ff"/>
<rect x="373" y="310" width="32" height="2" fill="#8080ff"/>
<rect x="373" y="312" width="32" height="2" fill="#4747ff"/>
<rect x="373" y="314" width="32" height="4" fill="#8080ff"/>
<rect x="373" y="318" width="32" height="4" fill="#2626ff"/>
<rect x="373" y="322" width="32" height="2" fill="#8c8cff"/>
<rect x="373" y="324" width="32" height="1" fill="#2626ff"/>
<rect x="373" y="325" width="32" height="12" fill="#7a7aff"/>
<rect x="373" y="337" width="32" height="4" fill="#9494ff"/>
<rect x="373" y="341" width="32" height="2" fill="#5252ff"/>
<rect x="373" y="343" width="32" height="3" fill="#9494ff"/>
<rect x="373" y="346" width="32" height="4" fill="#2626ff"/>
<rect x="373" y="350" width="32" height="2" fill="#5959ff"/>
<rect x="373" y="352" width="32" height="3" fill="#6666ff"/>
<rect x="373" y="355" width="32" height="4" fill="#5252ff"/>
<rect x="373" y="359" width="32" height="2" fill="#8080ff"/>
<rect x="373" y="361" width="32" height="2" fill="#9999ff"/>
<rect x="373" y="363" width="32" height="1" fill="#2626ff"/>
<rect x="373" y="364" width="32" height="1" fill="#8c8cff"/>
<rect x="373" y="365" width="32" height="9" fill="#9e9eff"/>
<rect x="373" y="374" width="32" height="4" fill="#7a7aff"/>
<rect x="373" y="378" width="32" height="3" fill="#9999ff"/>
<rect x="373" y="381" width="32" height="1" fill="#8080ff"/>
<rect x="373" y="382" width="32" height="4" fill="#9e9eff"/>
<rect x="373" y="386" width="32" height="5" fill="#7a7aff"/>
<rect x="373" y="391" width="32" height="3" fill="#9999ff"/>
<rect x="373" y="394" width="32" height="5" fill="#7a7aff"/>
<rect x="373" y="399" width="32" height="1" fill="#4747ff"/>
<rect x="373" y="400" width="32" height="1" fill="#9999ff"/>
<rect x="373" y="401" width="32" height="8" fill="#7a7aff"/>
<rect x="373" y="409" width="32" height="1" fill="#9999ff"/>
<rect x="373" y="410" width="32" height="2" fill="#4747ff"/>
<rect x="373" y="412" width="32" height="2" fill="#7373ff"/>
<rect x="373" y="414" width="32" height="7" fill="#4747ff"/>
<rect x="373" y="421" width="32" height="1" fill="#3333ff"/>
<rect x="373" y="422" width="32" height="2" fill="#7373ff"/>
<rect x="373" y="424" width="32" height="4" fill="#4747ff"/>
<rect x="373" y="428" width="32" height="4" fill="#9e9eff"/>
<rect x="373" y="432" width="32" height="1" fill="#8c8cff"/>
<rect x="373" y="433" width="32" height="2" fill="#9e9eff"/>
<rect x="405" y="67" width="32" height="6" fill="#ffabab"/>
<rect x="405" y="73" width="32" height="1" fill="#ffbfbf"/>
<rect x="405" y="74" width="32" height="2" fill="#ffa6a6"/>
<rect x="405" y="76" width="32" height="2" fill="#ff9494"/>
<rect x="405" y="78" width="32" height="4" fill="#ffc7c7"/>
<rect x="405" y="82" width="32" height="6" fill="#ffcccc"/>
<rect x="405" y="88" width="32" height="8" fill="#ffb2b2"/>
<rect x="405" y="96" width="32" height="1" fill="#ff9e9e"/>
<rect x="405" y="97" width="32" height="2" fill="#ffb2b2"/>
<rect x="405" y="99" width="32" height="1" fill="#ff9e9e"/>
<rect x="405" y="100" width="32" height="3" fill="#ffb2b2"/>
<rect x="405" y="103" width="32" height="4" fill="#ff9999"/>
<rect x="405" y="107" width="32" height="8" fill="#ffadad"/>
<rect x="405" y="115" width="32" height="4" fill="#ffb2b2"/>
<rect x="405" y="119" width="32" height="4" fill="#ff9e9e"/>
<rect x="405" y="123" width="32" height="2" fill="#ffb8b8"/>
<rect x="405" y="125" width="32" height="1" fill="#ffd1d1"/>
<rect x="405" y="126" width="32" height="1" fill="#ffb2b2"/>
<rect x="405" y="127" width="32" height="3" fill="#ffcccc"/>
<rect x="405" y="130" width="32" height="2" fill="#ffb2b2"/>
<rect x="405" y="132" width="32" height="1" fill="#ff9e9e"/>
<rect x="405" y="133" width="32" height="3" fill="#ffadad"/>
<rect x="405" y="136" width="32" height="1" fill="#ff9999"/>
<rect x="405" y="137" width="32" height="6" fill="#ffadad"/>
<rect x="405" y="143" width="32" height="1" fill="#ffcccc"/>
<rect x="405" y="144" width="32" height="5" fill="#ffadad"/>
<rect x="405" y="149" width="32" height="1" fill="#ff9999"/>
<rect x="405" y="150" width="32" height="1" fill="#ffadad"/>
<rect x="405" y="151" width="32" height="2" fill="#ff9999"/>
<rect x="405" y="153" width="32" height="10" fill="#ffadad"/>
<rect x="405" y="163" width="32" height="3" fill="#ff9999"/>
<rect x="405" y="166" width="32" height="11" fill="#ffb2b2"/>
<rect x="405" y="177" width="32" height="4" fill="#ffcccc"/>
<rect x="405" y="181" width="32" height="2" fill="#ffb2b2"/>
<rect x="405" y="183" width="32" height="2" fill="#ffcccc"/>
<rect x="405" y="185" width="32" height="1" fill="#ffb2b2"/>
<rect x="405" y="186" width="32" height="1" fill="#ffcccc"/>
<rect x="405" y="187" width="32" height="1" fill="#ff9e9e"/>
<rect x="405" y="188" width="32" height="12" fill="#ffabab"/>
<rect x="405" y="200" width="32" height="3" fill="#ffb2b2"/>
<rect x="405" y="203" width="32" height="5" fill="#ffcccc"/>
<rect x="405" y="208" width="32" height="3" fill="#ff9e9e"/>
<rect x="405" y="211" width="32" height="7" fill="#ffadad"/>
<rect x="405" y="218" width="32" height="2" fill="#ff9e9e"/>
<rect x="405" y="220" width="32" height="15" fill="#ffcccc"/>
<rect x="405" y="235" width="32" height="5" fill="#ffadad"/>
<rect x="405" y="240" width="32" height="1" fill="#ff9e9e"/>
<rect x="405" y="241" width="32" height="1" fill="#ffb2b2"/>
<rect x="405" y="242" width="32" height="1" fill="#ff9999"/>
<rect x="405" y="243" width="32" height="2" fill="#ffadad"/>
<rect x="405" y="245" width="32" height="2" fill="#ff9999"/>
<rect x="405" y="247" width="32" height="2" fill="#ffc7c7"/>
<rect x="405" y="249" width="32" height="1" fill="#ffadad"/>
<rect x="405" y="250" width="32" height="3" fill="#ffcccc"/>
<rect x="405" y="253" width="32" height="6" fill="#ffb8b8"/>
<rect x="405" y="259" width="32" height="1" fill="#ffbfbf"/>
<rect x="405" y="260" width="32" height="2" fill="#ffb2b2"/>
<rect x="405" y="262" width="32" height="4" fill="#ff9e9e"/>
<rect x="405" y="266" width="32" height="4" fill="#ffb2b2"/>
<rect x="405" y="270" width="32" height="2" fill="#ff9999"/>
<rect x="405" y="272" width="32" height="4" fill="#ffadad"/>
<rect x="405" y="276" width="32" height="1" fill="#ff9e9e"/>
<rect x="405" y="277" width="32" height="6" fill="#ffabab"/>
<rect x="405" y="283" width="32" height="1" fill="#ff9494"/>
<rect x="405" y="284" width="32" height="10" fill="#ffcccc"/>
<rect x="405" y="294" width="32" height="7" fill="#ffabab"/>
<rect x="405" y="301" width="32" height="9" fill="#ffcccc"/>
<rect x="405" y="310" width="32" height="9" fill="#ffb2b2"/>
<rect x="405" y="319" width="32" height="2" fill="#ff9999"/>
<rect x="405" y="321" width="32" height="1" fill="#ffb2b2"/>
<rect x="405" y="322" width="32" height="2" fill="#ffc7c7"/>
<rect x="405" y="324" width="32" height="1" fill="#ffadad"/>
<rect x="405" y="325" width="32" height="2" fill="#ffc7c7"/>
<rect x="405" y="327" width="32" height="2" fill="#ff9e9e"/>
<rect x="405" y="329" width="32" height="8" fill="#ffadad"/>
<rect x="405" y="337" width="32" height="4" fill="#ffcccc"/>
<rect x="405" y="341" width="32" height="2" fill="#ffadad"/>
<rect x="405" y="343" width="32" height="3" fill="#ffcccc"/>
<rect x="405" y="346" width="32" height="1" fill="#ff9e9e"/>
<rect x="405" y="347" width="32" height="1" fill="#ffb2b2"/>
<rect x="405" y="348" width="32" height="1" fill="#ff9e9e"/>
<rect x="405" y="349" width="32" height="8" fill="#ffabab"/>
<rect x="405" y="357" width="32" height="4" fill="#ff9999"/>
<rect x="405" y="361" width="32" height="1" fill="#ffb2b2"/>
<rect x="405" y="362" width="32" height="1" fill="#ffcccc"/>
<rect x="405" y="363" width="32" height="1" fill="#ffb2b2"/>
<rect x="405" y="364" width="32" height="11" fill="#ffcccc"/>
<rect x="405" y="375" width="32" height="3" fill="#ff9999"/>
<rect x="405" y="378" width="32" height="8" fill="#ffcccc"/>
<rect x="405" y="386" width="32" height="5" fill="#ffadad"/>
<rect x="405" y="391" width="32" height="3" fill="#ffcccc"/>
<rect x="405" y="394" width="32" height="1" fill="#ffadad"/>
<rect x="405" y="395" width="32" height="2" fill="#ffb2b2"/>
<rect x="405" y="397" width="32" height="3" fill="#ff9999"/>
<rect x="405" y="400" width="32" height="1" fill="#ffc7c7"/>
<rect x="405" y="401" width="32" height="8" fill="#ffb2b2"/>
<rect x="405" y="409" width="32" height="1" fill="#ffcccc"/>
<rect x="405" y="410" width="32" height="10" fill="#ffabab"/>
<rect x="405" y="420" width="32" height="1" fill="#ff9999"/>
<rect x="405" y="421" width="32" height="2" fill="#ffabab"/>
<rect x="405" y="423" width="32" height="1" fill="#ff9999"/>
<rect x="405" y="424" width="32" height="4" fill="#ffa6a6"/>
<rect x="405" y="428" width="32" height="7" fill="#ffcccc"/>
<rect x="437" y="67" width="33" height="6" fill="#ffebeb"/>
<rect x="437" y="74" width="33" height="3" fill="#ffebeb"/>
<rect x="437" y="77" width="33" height="5" fill="#fafaff"/>
<rect x="437" y="82" width="33" height="6" fill="#ffd9d9"/>
<rect x="437" y="88" width="33" height="8" fill="#ffebeb"/>
<rect x="437" y="96" width="33" height="1" fill="#f7f7ff"/>
<rect x="437" y="97" width="33" height="2" fill="#ffebeb"/>
<rect x="437" y="99" width="33" height="1" fill="#f7f7ff"/>
<rect x="437" y="100" width="33" height="3" fill="#ffebeb"/>
<rect x="437" y="103" width="33" height="4" fill="#f0f0ff"/>
<rect x="437" y="107" width="33" height="12" fill="#ffebeb"/>
<rect x="437" y="119" width="33" height="4" fill="#f0f0ff"/>
<rect x="437" y="123" width="33" height="2" fill="#ffebeb"/>
<rect x="437" y="126" width="33" height="1" fill="#ffd9d9"/>
<rect x="437" y="127" width="33" height="2" fill="#fff2f2"/>
<rect x="437" y="129" width="33" height="1" fill="#ffd9d9"/>
<rect x="437" y="130" width="33" height="3" fill="#f7f7ff"/>
<rect x="437" y="133" width="33" height="3" fill="#ffebeb"/>
<rect x="437" y="136" width="33" height="1" fill="#f2f2ff"/>
<rect x="437" y="137" width="33" height="6" fill="#ffebeb"/>
<rect x="437" y="144" width="33" height="5" fill="#ffebeb"/>
<rect x="437" y="149" width="33" height="4" fill="#f2f2ff"/>
<rect x="437" y="153" width="33" height="9" fill="#ffebeb"/>
<rect x="437" y="162" width="33" height="1" fill="#f7f7ff"/>
<rect x="437" y="163" width="33" height="3" fill="#f0f0ff"/>
<rect x="437" y="166" width="33" height="11" fill="#ffebeb"/>
<rect x="437" y="177" width="33" height="4" fill="#ffd9d9"/>
<rect x="437" y="181" width="33" height="2" fill="#fff2f2"/>
<rect x="437" y="183" width="33" height="2" fill="#ffd9d9"/>
<rect x="437" y="185" width="33" height="1" fill="#fff2f2"/>
<rect x="437" y="186" width="33" height="1" fill="#ffd9d9"/>
<rect x="437" y="187" width="33" height="2" fill="#f7f7ff"/>
<rect x="437" y="189" width="33" height="15" fill="#ffebeb"/>
<rect x="437" y="204" width="33" height="4" fill="#ffd9d9"/>
<rect x="437" y="208" width="33" height="4" fill="#f0f0ff"/>
<rect x="437" y="212" width="33" height="8" fill="#ffeded"/>
<rect x="437" y="220" width="33" height="3" fill="#ffd9d9"/>
<rect x="437" y="224" width="33" height="11" fill="#ffd9d9"/>
<rect x="437" y="235" width="33" height="4" fill="#ffebeb"/>
<rect x="437" y="239" width="33" height="2" fill="#f7f7ff"/>
<rect x="437" y="241" width="33" height="2" fill="#ffebeb"/>
<rect x="437" y="243" width="33" height="4" fill="#f7f7ff"/>
<rect x="437" y="247" width="33" height="2" fill="#fff2f2"/>
<rect x="437" y="249" width="33" height="4" fill="#fafaff"/>
<rect x="437" y="253" width="33" height="4" fill="#ffeded"/>
<rect x="437" y="259" width="33" height="2" fill="#ffebeb"/>
<rect x="437" y="261" width="33" height="5" fill="#f2f2ff"/>
<rect x="437" y="266" width="33" height="4" fill="#ffebeb"/>
<rect x="437" y="270" width="33" height="2" fill="#f2f2ff"/>
<rect x="437" y="272" width="33" height="3" fill="#ffebeb"/>
<rect x="437" y="275" width="33" height="2" fill="#f7f7ff"/>
<rect x="437" y="277" width="33" height="6" fill="#ffebeb"/>
<rect x="437" y="283" width="33" height="2" fill="#f7f7ff"/>
<rect x="437" y="285" width="33" height="9" fill="#ffd9d9"/>
<rect x="437" y="294" width="33" height="7" fill="#ffeded"/>
<rect x="437" y="301" width="33" height="4" fill="#ffd9d9"/>
<rect x="437" y="306" width="33" height="3" fill="#ffd9d9"/>
<rect x="437" y="310" width="33" height="9" fill="#ffeded"/>
<rect x="437" y="319" width="33" height="2" fill="#f2f2ff"/>
<rect x="437" y="321" width="33" height="3" fill="#ffd9d9"/>
<rect x="437" y="324" width="33" height="1" fill="#fff2f2"/>
<rect x="437" y="325" width="33" height="2" fill="#ffd9d9"/>
<rect x="437" y="327" width="33" height="3" fill="#f2f2ff"/>
<rect x="437" y="330" width="33" height="7" fill="#ffeded"/>
<rect x="437" y="337" width="33" height="4" fill="#ffd9d9"/>
<rect x="437" y="341" width="33" height="2" fill="#fff2f2"/>
<rect x="437" y="343" width="33" height="2" fill="#ffd9d9"/>
<rect x="437" y="345" width="33" height="2" fill="#fff2f2"/>
<rect x="437" y="347" width="33" height="2" fill="#f7f7ff"/>
<rect x="437" y="349" width="33" height="8" fill="#ffebeb"/>
<rect x="437" y="357" width="33" height="4" fill="#f2f2ff"/>
<rect x="437" y="361" width="33" height="2" fill="#ffebeb"/>
<rect x="437" y="364" width="33" height="6" fill="#ffd9d9"/>
<rect x="437" y="370" width="33" height="3" fill="#fafaff"/>
<rect x="437" y="373" width="33" height="2" fill="#ffd9d9"/>
<rect x="437" y="375" width="33" height="3" fill="#f2f2ff"/>
<rect x="437" y="378" width="33" height="7" fill="#ffd9d9"/>
<rect x="437" y="386" width="33" height="5" fill="#ffeded"/>
<rect x="437" y="391" width="33" height="2" fill="#ffd9d9"/>
<rect x="437" y="394" width="33" height="3" fill="#ffebeb"/>
<rect x="437" y="397" width="33" height="2" fill="#f2f2ff"/>
<rect x="437" y="399" width="33" height="2" fill="#ffd9d9"/>
<rect x="437" y="401" width="33" height="8" fill="#ffeded"/>
<rect x="437" y="410" width="33" height="10" fill="#ffeded"/>
<rect x="437" y="420" width="33" height="1" fill="#f7f7ff"/>
<rect x="437" y="421" width="33" height="2" fill="#ffebeb"/>
<rect x="437" y="424" width="33" height="4" fill="#ffebeb"/>
<rect x="437" y="428" width="33" height="4" fill="#ffd9d9"/>
<rect x="437" y="433" width="33" height="2" fill="#ffd9d9"/>
<rect x="69.5" y="66.5" width="449" height="369" fill="none" stroke="#000" stroke-width="1"/>
<rect x="529.5" y="66.5" width="22" height="369" fill="url(#cb)" stroke="#000" stroke-width="1"/>
</g>
<text x="292.2" y="39" font-size="19.6" text-anchor="middle" textLength="60" lengthAdjust="spacingAndGlyphs">HelT [°]</text>
<text transform="translate(41.5,251.9) rotate(-90)" font-size="20" text-anchor="middle" textLength="221" lengthAdjust="spacingAndGlyphs">Number of sequences: 426</text>
<text transform="translate(90.1,463) rotate(-90)" font-size="20">0</text>
<text transform="translate(122.1,463) rotate(-90)" font-size="20">1</text>
<text transform="translate(154.1,463) rotate(-90)" font-size="20">2</text>
<text transform="translate(186.1,463) rotate(-90)" font-size="20">3</text>
<text transform="translate(218.1,463) rotate(-90)" font-size="20">4</text>
<text transform="translate(250.1,463) rotate(-90)" font-size="20">5</text>
<text transform="translate(282.1,463) rotate(-90)" font-size="20">6</text>
<text transform="translate(314.1,463) rotate(-90)" font-size="20">7</text>
<text transform="translate(346.1,463) rotate(-90)" font-size="20">8</text>
<text transform="translate(378.1,463) rotate(-90)" font-size="20">9</text>
<text transform="translate(410.1,463) rotate(-90)" font-size="20">10</text>
<text transform="translate(442.1,463) rotate(-90)" font-size="20">11</text>
<text transform="translate(474.1,463) rotate(-90)" font-size="20">12</text>
<text transform="translate(506.1,463) rotate(-90)" font-size="20">13</text>
<text x="566" y="72.2" font-size="20">38</text>
<text x="566" y="124.9" font-size="20">37</text>
<text x="566" y="177.6" font-size="20">36</text>
<text x="566" y="230.3" font-size="20">35</text>
<text x="566" y="283.1" font-size="20">34</text>
<text x="566" y="335.8" font-size="20">33</text>
<text x="566" y="388.5" font-size="20">32</text>
<text x="566" y="441.2" font-size="20">31</text>
</svg>
</body></html>
